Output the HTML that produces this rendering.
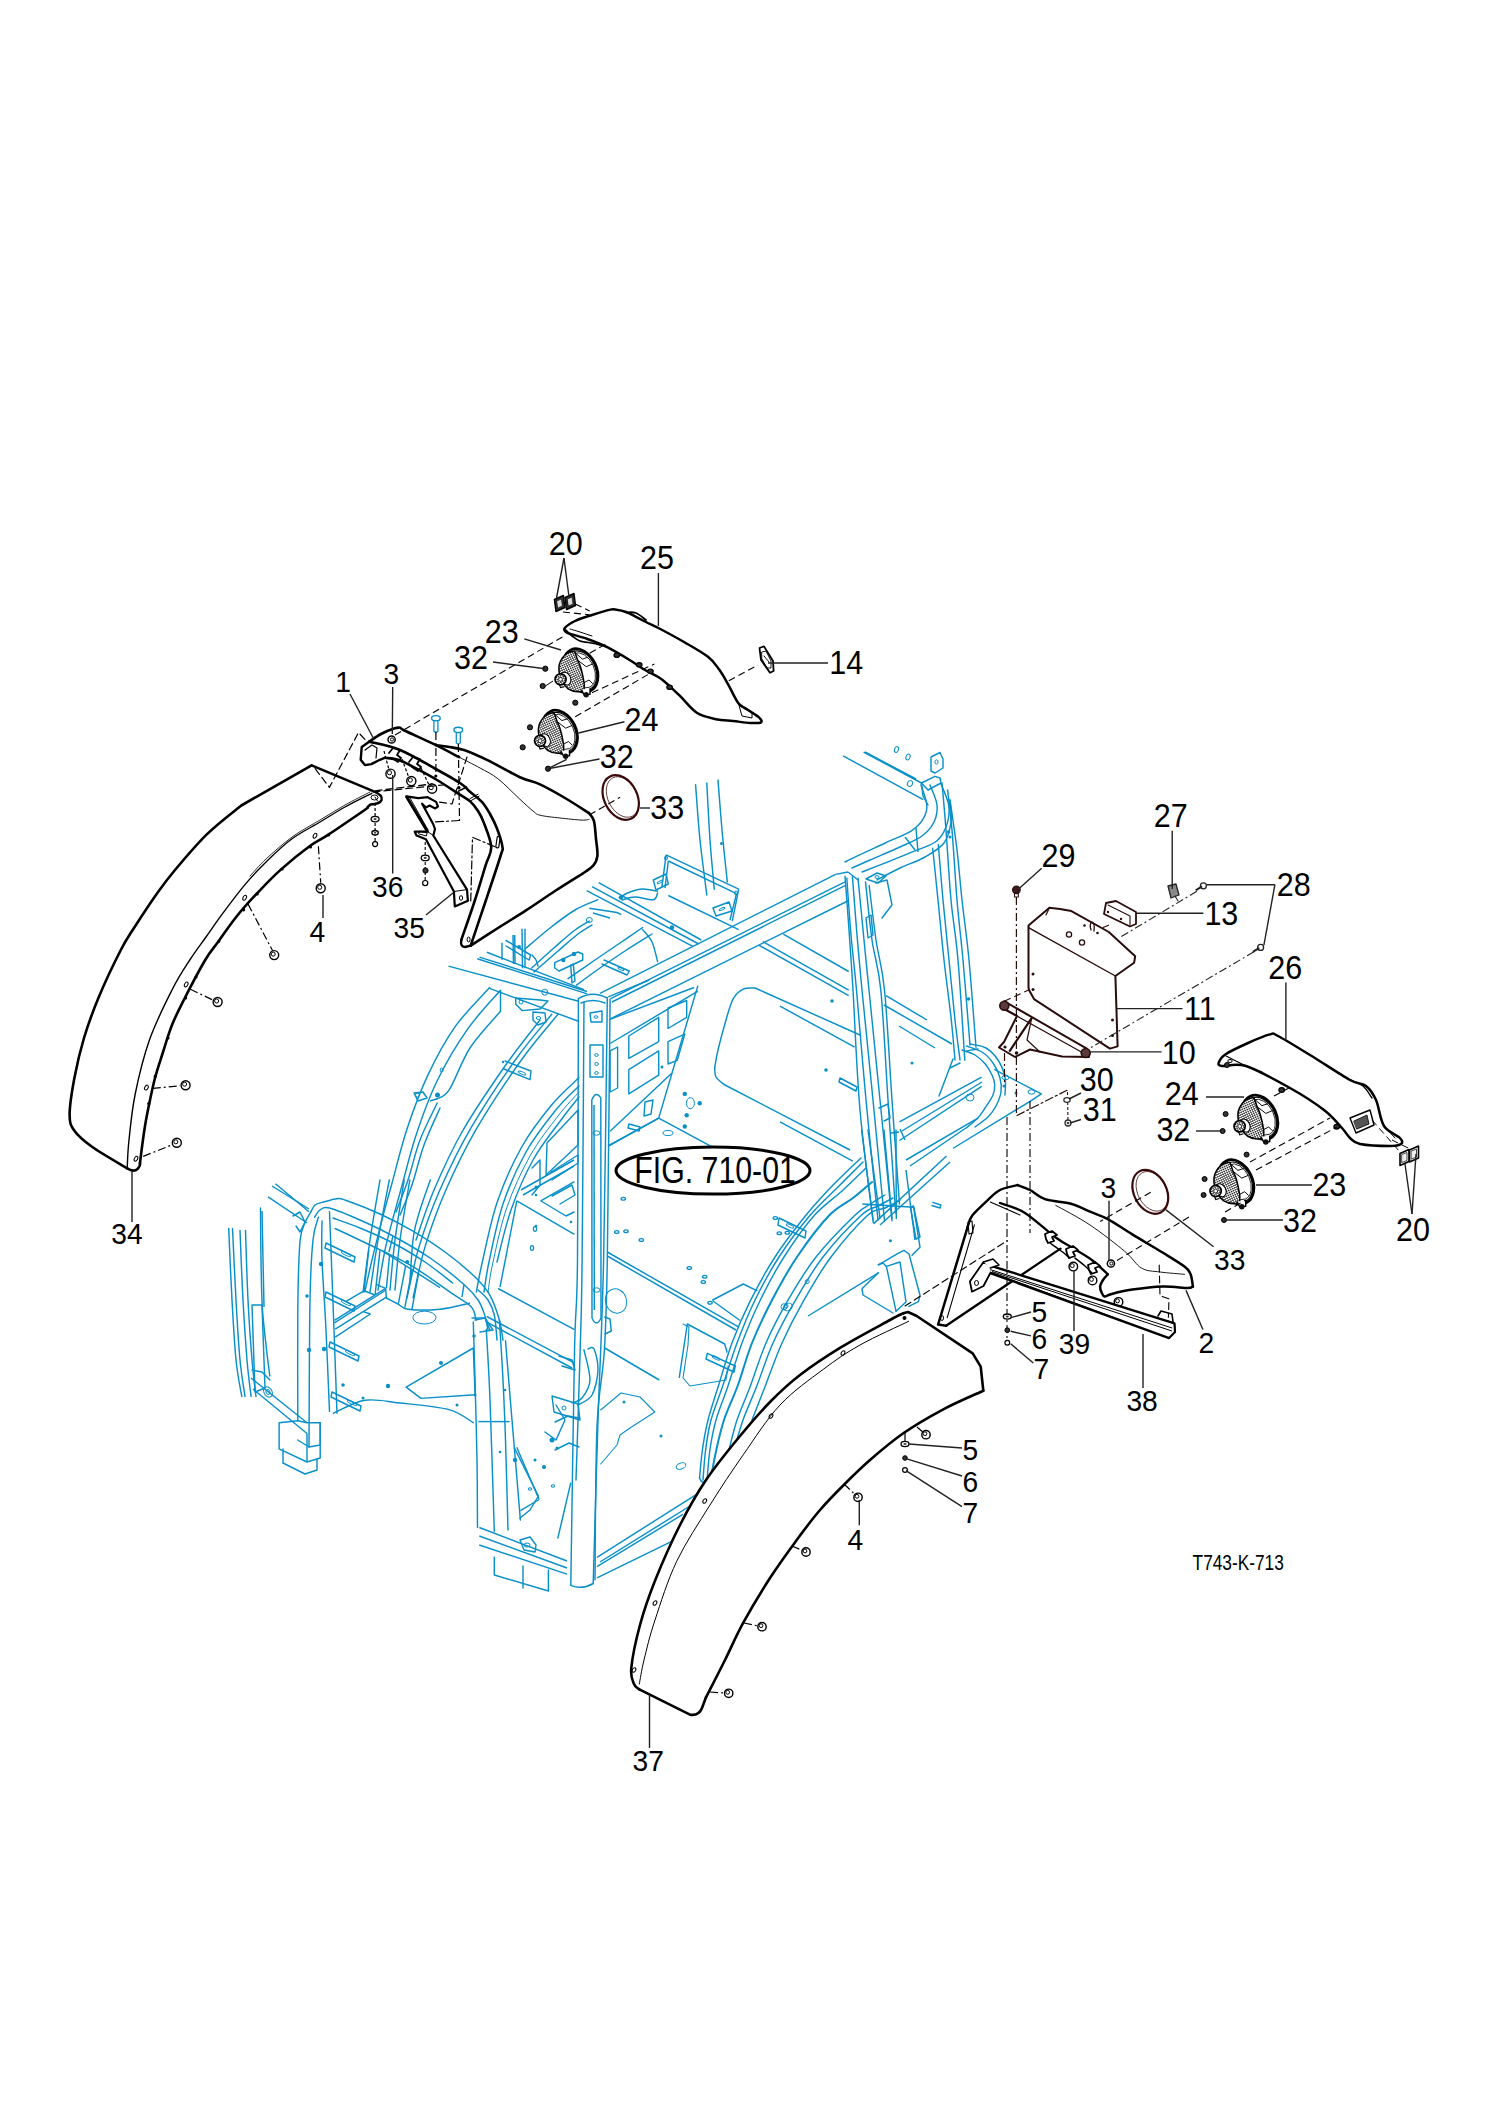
<!DOCTYPE html>
<html><head><meta charset="utf-8"><style>
html,body{margin:0;padding:0;background:#fff;}
svg{display:block;}
text{font-family:"Liberation Sans",sans-serif;fill:#000;}
</style></head><body>
<svg width="1500" height="2121" viewBox="0 0 1500 2121" xmlns="http://www.w3.org/2000/svg">
<rect width="1500" height="2121" fill="#fff"/>
<line x1="600" y1="993.3" x2="835.6" y2="874.4" stroke="#0a90c8" stroke-width="1.45"/>
<line x1="610.7" y1="998.7" x2="845" y2="881.9" stroke="#0a90c8" stroke-width="1.45"/>
<line x1="612" y1="1002" x2="845" y2="885.6" stroke="#0a90c8" stroke-width="1.45"/>
<line x1="610.7" y1="1018.7" x2="848.7" y2="900.5" stroke="#0a90c8" stroke-width="1.45"/>
<path d="M921,785 C922,788.4 926.6,799.6 926.9,805.3 C927.2,811 925.6,814.9 923,819.2 C920.4,823.5 917.3,827.1 911,831.1 C904.7,835.1 893.9,839 885.3,843 C876.7,847 866.3,851.7 859.6,854.9 C852.9,858.1 847.4,860.8 845,862" stroke="#0a90c8" stroke-width="1.45" fill="none" stroke-linejoin="round" stroke-linecap="round"/>
<path d="M930,785 C931.2,788.3 936.3,798.8 937,805 C937.7,811.2 936.5,816.8 934,822 C931.5,827.2 927.7,831.8 922,836 C916.3,840.2 908.7,843 900,847 C891.3,851 878,856.5 870,860 C862,863.5 855,866.7 852,868" stroke="#0a90c8" stroke-width="1.45" fill="none" stroke-linejoin="round" stroke-linecap="round"/>
<path d="M940.8,783.6 C942.1,787.2 947.7,798.4 948.7,805.3 C949.7,812.2 948.7,819.1 946.7,825.1 C944.7,831.1 942.1,836.7 936.8,841 C931.5,845.3 923.6,847.3 915,850.9 C906.4,854.5 894.1,859.3 885.3,862.8 C876.5,866.3 865.9,870.5 862,872" stroke="#0a90c8" stroke-width="1.45" fill="none" stroke-linejoin="round" stroke-linecap="round"/>
<path d="M950,800 C950.2,803.7 952,814.8 951,822 C950,829.2 948.3,837.2 944,843 C939.7,848.8 932.3,852.8 925,857 C917.7,861.2 908,864.2 900,868 C892,871.8 880.8,878 877,880" stroke="#0a90c8" stroke-width="1.45" fill="none" stroke-linejoin="round" stroke-linecap="round"/>
<line x1="835.6" y1="874.4" x2="848" y2="872" stroke="#0a90c8" stroke-width="1.45"/>
<line x1="848" y1="872" x2="858" y2="880" stroke="#0a90c8" stroke-width="1.45"/>
<line x1="905" y1="837" x2="915" y2="850" stroke="#0a90c8" stroke-width="1.45"/>
<line x1="916" y1="828" x2="918" y2="852" stroke="#0a90c8" stroke-width="1.45"/>
<path d="M921.5,783 L935,776.4 L940,778 L941,783 L928,790 L921.5,783" stroke="#0a90c8" stroke-width="1.45" fill="none" stroke-linejoin="round" stroke-linecap="round"/>
<path d="M921.5,783 L923,796 L928,805" stroke="#0a90c8" stroke-width="1.45" fill="none" stroke-linejoin="round" stroke-linecap="round"/>
<line x1="921.5" y1="783" x2="863.6" y2="752.1" stroke="#0a90c8" stroke-width="1.45"/>
<line x1="923.3" y1="799.7" x2="843.1" y2="755.9" stroke="#0a90c8" stroke-width="1.45"/>
<line x1="916" y1="779" x2="865" y2="752" stroke="#0a90c8" stroke-width="1.45"/>
<ellipse cx="896.5" cy="749.5" rx="2" ry="3" transform="rotate(20 896.5 749.5)" fill="none" stroke="#0a90c8" stroke-width="1"/>
<ellipse cx="908" cy="757" rx="2" ry="3" transform="rotate(20 908 757)" fill="none" stroke="#0a90c8" stroke-width="1"/>
<path d="M931,757 L940,752.5 L943,759 L943,768 L935,773 L931,771 L931,757" stroke="#0a90c8" stroke-width="1.45" fill="none" stroke-linejoin="round" stroke-linecap="round"/>
<ellipse cx="936.5" cy="762" rx="1.6" ry="2.2" transform="rotate(0 936.5 762)" fill="none" stroke="#0a90c8" stroke-width="1"/>
<ellipse cx="910" cy="783.5" rx="2.5" ry="3" transform="rotate(30 910 783.5)" fill="none" stroke="#0a90c8" stroke-width="1"/>
<path d="M845,876.3 C845.7,885.2 847.7,911 849,930 C850.3,949 851.2,960 853,990 C854.8,1020 856.6,1071.2 860,1110 C863.4,1148.8 871.1,1203.9 873.3,1222.7" stroke="#0a90c8" stroke-width="1.45" fill="none" stroke-linejoin="round" stroke-linecap="round"/>
<path d="M846.8,878.1 C847.5,887.6 849.4,916.4 851,935 C852.6,953.6 854,962.5 856.5,990 C859,1017.5 862.4,1061.7 866,1100 C869.6,1138.3 876,1200 878,1220" stroke="#0a90c8" stroke-width="1.45" fill="none" stroke-linejoin="round" stroke-linecap="round"/>
<path d="M852.4,876.3 C853.2,886.1 855.4,916 857,935 C858.6,954 859.3,962.5 862,990 C864.7,1017.5 869.2,1061.5 873,1100 C876.8,1138.5 882.6,1200.7 884.5,1220.8" stroke="#0a90c8" stroke-width="1.45" fill="none" stroke-linejoin="round" stroke-linecap="round"/>
<path d="M858,878.1 C859,888.4 862.2,921.4 864,940 C865.8,958.6 866.3,963.3 869,990 C871.7,1016.7 876.2,1061.5 880,1100 C883.8,1138.5 890,1200.7 892,1220.8" stroke="#0a90c8" stroke-width="1.45" fill="none" stroke-linejoin="round" stroke-linecap="round"/>
<path d="M865.5,881.9 C866.6,891.6 869.5,922 872,940 C874.5,958 878.1,963.3 880.8,990 C883.5,1016.7 885.5,1062.8 888,1100 C890.5,1137.2 894.4,1194.4 895.7,1213.3" stroke="#0a90c8" stroke-width="1.45" fill="none" stroke-linejoin="round" stroke-linecap="round"/>
<path d="M869.2,885.6 C870.3,894.7 873.5,922.6 876,940 C878.5,957.4 881.8,963.3 884.5,990 C887.2,1016.7 889.5,1064.3 892,1100 C894.5,1135.7 898.2,1186.7 899.5,1204" stroke="#0a90c8" stroke-width="1.45" fill="none" stroke-linejoin="round" stroke-linecap="round"/>
<path d="M866,879 L877,873 L886,876 L878,883 L866,879" stroke="#0a90c8" stroke-width="1.45" fill="none" stroke-linejoin="round" stroke-linecap="round"/>
<ellipse cx="877" cy="877" rx="2" ry="1.4" transform="rotate(0 877 877)" fill="none" stroke="#0a90c8" stroke-width="1"/>
<path d="M876,883 L887,880 L892,905 L882,918" stroke="#0a90c8" stroke-width="1.45" fill="none" stroke-linejoin="round" stroke-linecap="round"/>
<path d="M866,918 L871,915 L873,935 L868,938 L866,918" stroke="#0a90c8" stroke-width="1.45" fill="none" stroke-linejoin="round" stroke-linecap="round"/>
<path d="M942,783 C942.7,790.8 944.5,810.5 946,830 C947.5,849.5 949,878.3 951,900 C953,921.7 955.7,933.3 958,960 C960.3,986.7 963.7,1043.6 964.8,1060.3" stroke="#0a90c8" stroke-width="1.45" fill="none" stroke-linejoin="round" stroke-linecap="round"/>
<path d="M947.6,790 C948.3,796.7 950.4,811.7 952,830 C953.6,848.3 955.2,878.3 957,900 C958.8,921.7 960.8,935.8 963,960 C965.2,984.2 968.8,1030.8 970,1045" stroke="#0a90c8" stroke-width="1.45" fill="none" stroke-linejoin="round" stroke-linecap="round"/>
<path d="M950,800 C951.2,808.3 955,833.3 957,850 C959,866.7 960,881.7 962,900 C964,918.3 966.7,935.5 969,960 C971.3,984.5 974.8,1032.7 976,1047.2" stroke="#0a90c8" stroke-width="1.45" fill="none" stroke-linejoin="round" stroke-linecap="round"/>
<path d="M932.7,848.3 C933.6,856.9 936.1,881.4 938,900 C939.9,918.6 941.8,940 944,960 C946.2,980 949.5,1003.3 951.3,1020 C953.1,1036.7 954.4,1053.3 955,1060" stroke="#0a90c8" stroke-width="1.45" fill="none" stroke-linejoin="round" stroke-linecap="round"/>
<path d="M938.3,844.5 C939.1,853.8 941.2,880.8 943,900 C944.8,919.2 947,940 949,960 C951,980 953.2,1003.3 955,1020 C956.8,1036.7 959.2,1053.3 960,1060" stroke="#0a90c8" stroke-width="1.45" fill="none" stroke-linejoin="round" stroke-linecap="round"/>
<circle cx="948.5" cy="832" r="1.8" fill="#0a90c8"/>
<circle cx="950" cy="837" r="1.5" fill="#0a90c8"/>
<circle cx="968.5" cy="999" r="1.8" fill="#0a90c8"/>
<path d="M962,1050 C964.2,1050.8 971.1,1052.7 975,1055 C978.9,1057.3 982.5,1060.7 985.3,1064 C988.1,1067.3 990.4,1071.6 992,1075 C993.6,1078.4 994.5,1081.2 994.7,1084.5 C994.9,1087.8 994.6,1091.1 993,1095 C991.4,1098.9 987.5,1104.2 985,1108 C982.5,1111.8 980.9,1114.8 977.9,1118.1 C974.9,1121.3 968.6,1125.9 966.7,1127.5" stroke="#0a90c8" stroke-width="1.45" fill="none" stroke-linejoin="round" stroke-linecap="round"/>
<path d="M966.7,1046 C969.2,1047 977.6,1049.2 982,1052 C986.4,1054.8 990,1058.7 993,1063 C996,1067.3 998.7,1073.2 1000,1078 C1001.3,1082.8 1001.7,1087.3 1001,1092 C1000.3,1096.7 998.2,1101.8 996,1106 C993.8,1110.2 991.5,1113.5 988,1117 C984.5,1120.5 977.2,1125.3 975,1127" stroke="#0a90c8" stroke-width="1.45" fill="none" stroke-linejoin="round" stroke-linecap="round"/>
<path d="M970,1044 C972.7,1044.7 981.3,1045.3 986,1048 C990.7,1050.7 994.8,1055.2 998,1060 C1001.2,1064.8 1003.8,1071.2 1005,1077 C1006.2,1082.8 1005,1092 1005,1095" stroke="#0a90c8" stroke-width="1.45" fill="none" stroke-linejoin="round" stroke-linecap="round"/>
<path d="M966.7,1050.9 L978,1049" stroke="#0a90c8" stroke-width="1.45" fill="none" stroke-linejoin="round" stroke-linecap="round"/>
<line x1="899.5" y1="1121.9" x2="981.6" y2="1077.1" stroke="#0a90c8" stroke-width="1.45"/>
<line x1="899.5" y1="1140.5" x2="981.6" y2="1086.4" stroke="#0a90c8" stroke-width="1.45"/>
<line x1="902" y1="1131" x2="982" y2="1082" stroke="#0a90c8" stroke-width="1.45"/>
<line x1="906" y1="1160" x2="977.9" y2="1118.1" stroke="#0a90c8" stroke-width="1.45"/>
<line x1="910" y1="1166" x2="966.7" y2="1127.5" stroke="#0a90c8" stroke-width="1.45"/>
<ellipse cx="970" cy="1097.5" rx="4" ry="3.5" transform="rotate(0 970 1097.5)" fill="none" stroke="#0a90c8" stroke-width="1"/>
<line x1="891" y1="1133" x2="899" y2="1132" stroke="#0a90c8" stroke-width="1.45"/>
<line x1="900" y1="1129" x2="905" y2="1140" stroke="#0a90c8" stroke-width="1.45"/>
<path d="M994.7,1069.6 L1041.3,1093.9 L1030.1,1101.3 L953.6,1148" stroke="#0a90c8" stroke-width="1.45" fill="none" stroke-linejoin="round" stroke-linecap="round"/>
<ellipse cx="1005.5" cy="1077.5" rx="3.5" ry="2.2" transform="rotate(0 1005.5 1077.5)" fill="none" stroke="#0a90c8" stroke-width="1"/>
<ellipse cx="1031.5" cy="1092" rx="3.5" ry="2.2" transform="rotate(0 1031.5 1092)" fill="none" stroke="#0a90c8" stroke-width="1"/>
<circle cx="1004" cy="1086" r="1.5" fill="#0a90c8"/>
<circle cx="1016" cy="1093" r="1.5" fill="#0a90c8"/>
<path d="M953,1059 L939,1096" stroke="#0a90c8" stroke-width="1.45" fill="none" stroke-linejoin="round" stroke-linecap="round"/>
<path d="M950,1068 L960,1063" stroke="#0a90c8" stroke-width="1.45" fill="none" stroke-linejoin="round" stroke-linecap="round"/>
<path d="M695.6,784.8 C696.3,794 698.1,821.6 700,840 C701.9,858.4 705.7,885.8 706.8,895" stroke="#0a90c8" stroke-width="1.45" fill="none" stroke-linejoin="round" stroke-linecap="round"/>
<path d="M706.8,783 C707.3,792.5 708.8,822.3 710,840 C711.2,857.7 713.6,881.1 714.3,889.3" stroke="#0a90c8" stroke-width="1.45" fill="none" stroke-linejoin="round" stroke-linecap="round"/>
<path d="M718,780.1 C718.7,788.4 720.5,813 722,830 C723.5,847 726.4,873.2 727.3,881.9" stroke="#0a90c8" stroke-width="1.45" fill="none" stroke-linejoin="round" stroke-linecap="round"/>
<circle cx="721.5" cy="843.5" r="1.5" fill="#0a90c8"/>
<line x1="666.1" y1="854.9" x2="738.7" y2="889.1" stroke="#0a90c8" stroke-width="1.45"/>
<line x1="668.3" y1="861" x2="736.5" y2="893.6" stroke="#0a90c8" stroke-width="1.45"/>
<line x1="666.1" y1="854.9" x2="661.9" y2="886.9" stroke="#0a90c8" stroke-width="1.45"/>
<line x1="668.3" y1="861" x2="665" y2="888" stroke="#0a90c8" stroke-width="1.45"/>
<line x1="738.7" y1="889.1" x2="732.3" y2="921.1" stroke="#0a90c8" stroke-width="1.45"/>
<line x1="736.5" y1="893.6" x2="730" y2="920" stroke="#0a90c8" stroke-width="1.45"/>
<line x1="668.3" y1="895.5" x2="738.7" y2="929.6" stroke="#0a90c8" stroke-width="1.45"/>
<path d="M653.3,880 L666,874 L668.3,884 L656,890 L653.3,880" stroke="#0a90c8" stroke-width="1.45" fill="none" stroke-linejoin="round" stroke-linecap="round"/>
<ellipse cx="660" cy="882" rx="3" ry="1" transform="rotate(-25 660 882)" fill="none" stroke="#0a90c8" stroke-width="1"/>
<path d="M713,908 L729,902 L732,911 L716,916 L713,908" stroke="#0a90c8" stroke-width="1.45" fill="none" stroke-linejoin="round" stroke-linecap="round"/>
<ellipse cx="722" cy="909" rx="3" ry="1" transform="rotate(-25 722 909)" fill="none" stroke="#0a90c8" stroke-width="1"/>
<path d="M619.2,897.6 C621,896.7 626.1,893.4 630,892 C633.9,890.6 638.1,889.1 642.7,889 C647.3,888.9 655.1,890.8 657.6,891.2" stroke="#0a90c8" stroke-width="1.45" fill="none" stroke-linejoin="round" stroke-linecap="round"/>
<path d="M622,900 C624.2,899.5 629.8,897 635,897 C640.2,897 649.5,900.4 653.3,899.7 C657.1,899 656.9,894.1 657.6,893" stroke="#0a90c8" stroke-width="1.45" fill="none" stroke-linejoin="round" stroke-linecap="round"/>
<ellipse cx="666" cy="858" rx="1.5" ry="2" transform="rotate(0 666 858)" fill="none" stroke="#0a90c8" stroke-width="1"/>
<ellipse cx="736" cy="893" rx="1.5" ry="2" transform="rotate(0 736 893)" fill="none" stroke="#0a90c8" stroke-width="1"/>
<line x1="586.7" y1="890.7" x2="693.3" y2="946.7" stroke="#0a90c8" stroke-width="1.45"/>
<line x1="592" y1="886.7" x2="698.7" y2="944" stroke="#0a90c8" stroke-width="1.45"/>
<line x1="598.7" y1="882.7" x2="701.3" y2="940" stroke="#0a90c8" stroke-width="1.45"/>
<circle cx="621" cy="897.5" r="2.2" fill="#0a90c8"/>
<circle cx="672" cy="927.5" r="2.2" fill="#0a90c8"/>
<line x1="477.3" y1="958.7" x2="587.2" y2="993.9" stroke="#0a90c8" stroke-width="1.45"/>
<line x1="479.5" y1="957.1" x2="587" y2="991.5" stroke="#0a90c8" stroke-width="1.45"/>
<line x1="486.9" y1="952.3" x2="584" y2="989.6" stroke="#0a90c8" stroke-width="1.45"/>
<line x1="448.5" y1="966.1" x2="578.7" y2="1001.3" stroke="#0a90c8" stroke-width="1.45"/>
<line x1="489.6" y1="988.4" x2="578.5" y2="1021.3" stroke="#0a90c8" stroke-width="1.45"/>
<line x1="502" y1="942.7" x2="502" y2="959.7" stroke="#0a90c8" stroke-width="1.45"/>
<line x1="513" y1="935" x2="513.5" y2="964" stroke="#0a90c8" stroke-width="1.45"/>
<line x1="514.7" y1="935" x2="515" y2="964" stroke="#0a90c8" stroke-width="1.45"/>
<line x1="522" y1="928.8" x2="522.5" y2="968.3" stroke="#0a90c8" stroke-width="1.45"/>
<line x1="525" y1="928.8" x2="525" y2="968.3" stroke="#0a90c8" stroke-width="1.45"/>
<path d="M506,940.5 L530.7,955 L529,960 L506,946" stroke="#0a90c8" stroke-width="1.45" fill="none" stroke-linejoin="round" stroke-linecap="round"/>
<circle cx="519" cy="947" r="2" fill="#0a90c8"/>
<path d="M532,955 C532.7,955.8 535,958.2 536,960 C537,961.8 537.7,965 538,966" stroke="#0a90c8" stroke-width="1.45" fill="none" stroke-linejoin="round" stroke-linecap="round"/>
<path d="M525.3,948.8 C529.4,945.3 541.7,934.5 550,928 C558.3,921.5 567,914.7 575,910 C583,905.3 594.1,901.4 597.9,899.7" stroke="#0a90c8" stroke-width="1.45" fill="none" stroke-linejoin="round" stroke-linecap="round"/>
<path d="M531.7,968 C535.6,964.5 547.8,953.3 555,947 C562.2,940.7 569.3,934.3 575,930 C580.7,925.7 586.9,922.6 589.3,921.1" stroke="#0a90c8" stroke-width="1.45" fill="none" stroke-linejoin="round" stroke-linecap="round"/>
<path d="M534,972 C538,968.5 550.7,957.3 558,951 C565.3,944.7 572.3,938.3 578,934 C583.7,929.7 589.7,926.5 592,925" stroke="#0a90c8" stroke-width="1.45" fill="none" stroke-linejoin="round" stroke-linecap="round"/>
<path d="M568,978.7 C572.5,975.6 586.3,966 595,960 C603.7,954 612,948.4 620,943 C628,937.6 638.9,930.1 642.7,927.5" stroke="#0a90c8" stroke-width="1.45" fill="none" stroke-linejoin="round" stroke-linecap="round"/>
<path d="M576.5,985.1 C580.4,982.2 591.9,973.7 600,968 C608.1,962.3 616.3,956.7 625,951 C633.7,945.3 647.5,936.8 652,934" stroke="#0a90c8" stroke-width="1.45" fill="none" stroke-linejoin="round" stroke-linecap="round"/>
<path d="M642.7,929.6 C644.2,931.7 649.5,936.7 652,942 C654.5,947.3 656.7,958.3 657.6,961.6" stroke="#0a90c8" stroke-width="1.45" fill="none" stroke-linejoin="round" stroke-linecap="round"/>
<line x1="589.3" y1="908.3" x2="617" y2="912.5" stroke="#0a90c8" stroke-width="1.45"/>
<line x1="617" y1="912.5" x2="621.3" y2="914.7" stroke="#0a90c8" stroke-width="1.45"/>
<line x1="593" y1="913" x2="610" y2="918" stroke="#0a90c8" stroke-width="1.45"/>
<path d="M554.7,962.7 L578,952 L582.7,954 L582.7,960 L559,971 L554.7,968 L554.7,962.7" stroke="#0a90c8" stroke-width="1.45" fill="none" stroke-linejoin="round" stroke-linecap="round"/>
<circle cx="563.3" cy="960" r="2.2" fill="#0a90c8"/>
<circle cx="574" cy="954" r="2.2" fill="#0a90c8"/>
<path d="M570.7,965.3 L573.3,964 L575,981 L572,983 L570.7,965.3" stroke="#0a90c8" stroke-width="1.45" fill="none" stroke-linejoin="round" stroke-linecap="round"/>
<path d="M604,960 L629.3,971 L627,975 L602,964" stroke="#0a90c8" stroke-width="1.45" fill="none" stroke-linejoin="round" stroke-linecap="round"/>
<ellipse cx="621" cy="969" rx="3" ry="1" transform="rotate(25 621 969)" fill="none" stroke="#0a90c8" stroke-width="1"/>
<ellipse cx="589.3" cy="920" rx="3" ry="2.5" transform="rotate(0 589.3 920)" fill="none" stroke="#0a90c8" stroke-width="1"/>
<path d="M578.4,998.7 C578.2,1042.2 578.1,1201.1 577.5,1260 C576.9,1318.9 575.6,1297.8 574.5,1352 C573.4,1406.2 571.4,1546.4 570.8,1585.3" stroke="#0a90c8" stroke-width="1.45" fill="none" stroke-linejoin="round" stroke-linecap="round"/>
<path d="M584,1002 C583.7,1045 582.8,1201.7 582.1,1260 C581.5,1318.3 581.1,1315.3 580.1,1352 C579.1,1388.7 576.7,1458.7 576,1480" stroke="#0a90c8" stroke-width="1.45" fill="none" stroke-linejoin="round" stroke-linecap="round"/>
<path d="M607.3,998 C606.7,1041.7 605.1,1189.7 603.6,1260 C602.1,1330.3 599.7,1366.1 598,1420 C596.3,1473.9 594,1556.2 593.2,1583.5" stroke="#0a90c8" stroke-width="1.45" fill="none" stroke-linejoin="round" stroke-linecap="round"/>
<path d="M610.1,999 C609.6,1042.5 608.2,1201.5 607.3,1260 C606.3,1318.5 606.1,1322.2 604.4,1350 C602.7,1377.8 598.6,1388.4 597,1426.7 C595.4,1465 595.3,1554.2 595,1579.7" stroke="#0a90c8" stroke-width="1.45" fill="none" stroke-linejoin="round" stroke-linecap="round"/>
<path d="M578.4,998.7 Q592,990 607.3,998" stroke="#0a90c8" stroke-width="1.45" fill="none" stroke-linejoin="round" stroke-linecap="round"/>
<path d="M581,1003 Q593,998 605,1003" stroke="#0a90c8" stroke-width="1.45" fill="none" stroke-linejoin="round" stroke-linecap="round"/>
<path d="M570.8,1585.3 Q582,1590 593.2,1583.5" stroke="#0a90c8" stroke-width="1.45" fill="none" stroke-linejoin="round" stroke-linecap="round"/>
<path d="M590,1045 L603,1045 L603,1077 L590,1077 L590,1045" stroke="#0a90c8" stroke-width="1.45" fill="none" stroke-linejoin="round" stroke-linecap="round"/>
<ellipse cx="596.5" cy="1055" rx="1.8" ry="1.4" transform="rotate(0 596.5 1055)" fill="none" stroke="#0a90c8" stroke-width="1"/>
<ellipse cx="596.5" cy="1064" rx="1.8" ry="1.6" transform="rotate(0 596.5 1064)" fill="none" stroke="#0a90c8" stroke-width="1"/>
<ellipse cx="596.5" cy="1073" rx="1.8" ry="1.4" transform="rotate(0 596.5 1073)" fill="none" stroke="#0a90c8" stroke-width="1"/>
<path d="M590,1013 L602,1011 L602,1022 L591,1022 L590,1013" stroke="#0a90c8" stroke-width="1.45" fill="none" stroke-linejoin="round" stroke-linecap="round"/>
<ellipse cx="596" cy="1017" rx="2" ry="1.2" transform="rotate(0 596 1017)" fill="none" stroke="#0a90c8" stroke-width="1"/>
<path d="M592,1318 L591.8,1100 Q596,1090 600.8,1098 L601,1318 Q596.5,1328 592,1318 Z" stroke="#0a90c8" stroke-width="1.45" fill="none" stroke-linejoin="round" stroke-linecap="round"/>
<line x1="594" y1="1105" x2="594.3" y2="1310" stroke="#0a90c8" stroke-width="1.45"/>
<ellipse cx="596.5" cy="1133" rx="3.5" ry="2.2" transform="rotate(0 596.5 1133)" fill="none" stroke="#0a90c8" stroke-width="1"/>
<ellipse cx="596.5" cy="1290" rx="3.5" ry="2.2" transform="rotate(0 596.5 1290)" fill="none" stroke="#0a90c8" stroke-width="1"/>
<path d="M588,1349 C589,1349 592.3,1345.5 594,1349 C595.7,1352.5 598.3,1362.3 598,1370 C597.7,1377.7 595.3,1389.2 592,1395 C588.7,1400.8 580.3,1403.3 578,1405" stroke="#0a90c8" stroke-width="1.45" fill="none" stroke-linejoin="round" stroke-linecap="round"/>
<path d="M584,1350 C585,1355 590.3,1372 590,1380 C589.7,1388 585,1394.2 582,1398 C579,1401.8 573.7,1402.2 572,1403" stroke="#0a90c8" stroke-width="1.45" fill="none" stroke-linejoin="round" stroke-linecap="round"/>
<path d="M552,1396 L578,1404 L580,1420 L554,1412 L552,1396" stroke="#0a90c8" stroke-width="1.45" fill="none" stroke-linejoin="round" stroke-linecap="round"/>
<ellipse cx="564" cy="1408" rx="2" ry="2" transform="rotate(0 564 1408)" fill="none" stroke="#0a90c8" stroke-width="1"/>
<line x1="608.3" y1="996.8" x2="649.3" y2="980" stroke="#0a90c8" stroke-width="1.45"/>
<line x1="610.1" y1="1019.2" x2="694.1" y2="987.5" stroke="#0a90c8" stroke-width="1.45"/>
<line x1="610.1" y1="1043.5" x2="697.9" y2="991.2" stroke="#0a90c8" stroke-width="1.45"/>
<line x1="658.7" y1="1118.1" x2="697.9" y2="985.6" stroke="#0a90c8" stroke-width="1.45"/>
<line x1="610.1" y1="1131.2" x2="671.7" y2="1073.3" stroke="#0a90c8" stroke-width="1.45"/>
<line x1="608.3" y1="1146.1" x2="658.7" y2="1118.1" stroke="#0a90c8" stroke-width="1.45"/>
<path d="M628.8,1036 L658.7,1017.3 L658.7,1041.6 L628.8,1058.4Z" stroke="#0a90c8" stroke-width="1.4" fill="none" stroke-linejoin="round" stroke-linecap="round"/>
<path d="M628.8,1069.6 L658.7,1050.9 L658.7,1075.2 L628.8,1093.9Z" stroke="#0a90c8" stroke-width="1.4" fill="none" stroke-linejoin="round" stroke-linecap="round"/>
<path d="M668,1008 L686.7,1000.5 L686.7,1017.3 L668,1028.5Z" stroke="#0a90c8" stroke-width="1.4" fill="none" stroke-linejoin="round" stroke-linecap="round"/>
<path d="M668,1041.6 L684.8,1034.1 L677.3,1060.3 L668,1064Z" stroke="#0a90c8" stroke-width="1.4" fill="none" stroke-linejoin="round" stroke-linecap="round"/>
<path d="M610.1,1050.9 L617.6,1047 L617.6,1088 L610.1,1092Z" stroke="#0a90c8" stroke-width="1.4" fill="none" stroke-linejoin="round" stroke-linecap="round"/>
<circle cx="662" cy="1067" r="1.5" fill="#0a90c8"/>
<path d="M645,1102 L653,1100 L651,1114 L644,1116 L645,1102" stroke="#0a90c8" stroke-width="1.45" fill="none" stroke-linejoin="round" stroke-linecap="round"/>
<path d="M629,1124 L640,1127 L639,1131 L628,1128 L629,1124" stroke="#0a90c8" stroke-width="1.45" fill="none" stroke-linejoin="round" stroke-linecap="round"/>
<line x1="658.7" y1="1118.1" x2="780" y2="1183.5" stroke="#0a90c8" stroke-width="1.45"/>
<line x1="658.7" y1="1118.1" x2="608" y2="1146" stroke="#0a90c8" stroke-width="1.45"/>
<ellipse cx="668" cy="1133" rx="5" ry="2.5" transform="rotate(0 668 1133)" fill="none" stroke="#0a90c8" stroke-width="1"/>
<circle cx="684.8" cy="1093.9" r="2.2" fill="#0a90c8"/>
<circle cx="699.7" cy="1103.2" r="2.2" fill="#0a90c8"/>
<circle cx="686.7" cy="1115.3" r="2.2" fill="#0a90c8"/>
<circle cx="684.8" cy="1126.5" r="2.2" fill="#0a90c8"/>
<ellipse cx="690.4" cy="1103.2" rx="4" ry="5.5" transform="rotate(0 690.4 1103.2)" fill="none" stroke="#0a90c8" stroke-width="1"/>
<path d="M714.7,1067.7 C715.2,1064.8 716.1,1058 718,1050 C719.9,1042 723.5,1028.5 726,1020 C728.5,1011.5 730.5,1003.8 733.3,998.7 C736.1,993.6 739.1,991.1 742.7,989.3 C746.3,987.5 753,988.2 755,988" stroke="#0a90c8" stroke-width="1.45" fill="none" stroke-linejoin="round" stroke-linecap="round"/>
<line x1="755" y1="988" x2="860" y2="1035" stroke="#0a90c8" stroke-width="1.45"/>
<path d="M714.7,1067.7 C714.9,1069.2 714.5,1074.2 716,1077 C717.5,1079.8 722.7,1083.2 724,1084.5" stroke="#0a90c8" stroke-width="1.45" fill="none" stroke-linejoin="round" stroke-linecap="round"/>
<line x1="724" y1="1084.5" x2="850" y2="1150" stroke="#0a90c8" stroke-width="1.45"/>
<line x1="759.1" y1="945.3" x2="848.7" y2="995.7" stroke="#0a90c8" stroke-width="1.45"/>
<line x1="762.8" y1="941.6" x2="848.7" y2="990.1" stroke="#0a90c8" stroke-width="1.45"/>
<line x1="783.3" y1="934.1" x2="848.7" y2="971.5" stroke="#0a90c8" stroke-width="1.45"/>
<line x1="780" y1="1006.1" x2="854.7" y2="1047.2" stroke="#0a90c8" stroke-width="1.45"/>
<line x1="780" y1="1121.9" x2="852.8" y2="1161.1" stroke="#0a90c8" stroke-width="1.45"/>
<line x1="886" y1="995.7" x2="927" y2="1020" stroke="#0a90c8" stroke-width="1.45"/>
<line x1="884" y1="1005" x2="952" y2="1044" stroke="#0a90c8" stroke-width="1.45"/>
<line x1="899" y1="1026" x2="935" y2="1048" stroke="#0a90c8" stroke-width="1.45"/>
<circle cx="832" cy="1001" r="1.8" fill="#0a90c8"/>
<circle cx="826" cy="1070" r="1.8" fill="#0a90c8"/>
<circle cx="912" cy="1063" r="1.5" fill="#0a90c8"/>
<path d="M840,1078 L857,1087 L856,1091 L839,1082 L840,1078" stroke="#0a90c8" stroke-width="1.45" fill="none" stroke-linejoin="round" stroke-linecap="round"/>
<path d="M879,1108 L888,1104 L890,1118 L884,1121" stroke="#0a90c8" stroke-width="1.45" fill="none" stroke-linejoin="round" stroke-linecap="round"/>
<path d="M489.6,987.6 C483.9,994.1 465.6,1011.9 455.3,1026.4 C445.1,1040.9 436.2,1057.5 428.1,1074.6 C420.1,1091.7 413,1110.8 407,1128.9 C401,1147 396,1168.6 392,1183.2 C388,1197.8 386.2,1203.6 382.9,1216.4 C379.6,1229.2 375,1247.4 372,1260 C369,1272.6 366,1286.5 364.8,1291.8" stroke="#0a90c8" stroke-width="1.45" fill="none" stroke-linejoin="round" stroke-linecap="round"/>
<path d="M500.5,990.2 C495,996.7 477.9,1014.3 467.4,1029.4 C456.8,1044.5 445.8,1063.1 437.2,1080.7 C428.6,1098.3 422.1,1116.9 416.1,1135 C410.1,1153.1 404.8,1175.7 401,1189.3 C397.2,1202.9 394.8,1211.9 393.5,1216.4" stroke="#0a90c8" stroke-width="1.45" fill="none" stroke-linejoin="round" stroke-linecap="round"/>
<path d="M500.5,1011.3 C495.4,1017.4 478.5,1034.9 470,1048 C461.5,1061.1 454.8,1081.2 449.3,1089.7 C443.8,1098.2 439.2,1097.3 437.2,1098.8" stroke="#0a90c8" stroke-width="1.45" fill="none" stroke-linejoin="round" stroke-linecap="round"/>
<line x1="500.5" y1="990.2" x2="500.5" y2="1011.3" stroke="#0a90c8" stroke-width="1.45"/>
<line x1="437.2" y1="1098.8" x2="430" y2="1101" stroke="#0a90c8" stroke-width="1.45"/>
<path d="M437.2,1103 C434.3,1109.2 424.9,1127.2 420,1140 C415.1,1152.8 412,1168 408,1180 C404,1192 398,1206.7 396,1212" stroke="#0a90c8" stroke-width="1.45" fill="none" stroke-linejoin="round" stroke-linecap="round"/>
<path d="M440,1108 C437.3,1114.2 428.7,1132.2 424,1145 C419.3,1157.8 416,1173.3 412,1185 C408,1196.7 402,1210 400,1215" stroke="#0a90c8" stroke-width="1.45" fill="none" stroke-linejoin="round" stroke-linecap="round"/>
<path d="M393.5,1216.4 C392.1,1222 387.6,1237.7 385,1250 C382.4,1262.3 379.2,1283.3 378,1290" stroke="#0a90c8" stroke-width="1.45" fill="none" stroke-linejoin="round" stroke-linecap="round"/>
<ellipse cx="441.7" cy="1070" rx="1.5" ry="2" transform="rotate(0 441.7 1070)" fill="none" stroke="#0a90c8" stroke-width="1"/>
<path d="M414,1093 L423,1092 L427,1098 L418,1101 L414,1093" stroke="#0a90c8" stroke-width="1.45" fill="none" stroke-linejoin="round" stroke-linecap="round"/>
<ellipse cx="417.5" cy="1095" rx="2" ry="2" transform="rotate(0 417.5 1095)" fill="none" stroke="#0a90c8" stroke-width="1"/>
<circle cx="437.5" cy="1095" r="2.5" fill="#0a90c8"/>
<path d="M557.9,1014.3 C551.9,1021.8 535.3,1040.4 521.7,1059.5 C508.1,1078.6 489,1107.3 476.4,1128.9 C463.8,1150.5 454.8,1169.7 446.2,1189.3 C437.6,1208.9 430.6,1228.5 425.1,1246.6 C419.6,1264.7 415.1,1289.4 413.1,1297.9" stroke="#0a90c8" stroke-width="1.45" fill="none" stroke-linejoin="round" stroke-linecap="round"/>
<path d="M551.8,1014.3 C545.8,1021.8 529.6,1039.9 516,1059 C502.4,1078.1 483,1107.2 470.4,1128.9 C457.8,1150.6 448.8,1169.7 440.2,1189.3 C431.6,1208.9 424.6,1228.5 419.1,1246.6 C413.6,1264.7 409,1289.4 407,1297.9" stroke="#0a90c8" stroke-width="1.45" fill="none" stroke-linejoin="round" stroke-linecap="round"/>
<path d="M540,1020 C534.2,1027.7 518,1047.3 505,1066 C492,1084.7 473.8,1111.3 462,1132 C450.2,1152.7 441.7,1172 434,1190 C426.3,1208 419,1231.7 416,1240" stroke="#0a90c8" stroke-width="1.45" fill="none" stroke-linejoin="round" stroke-linecap="round"/>
<path d="M505,1061 L531,1071 L530,1079.6 L504,1069" stroke="#0a90c8" stroke-width="1.45" fill="none" stroke-linejoin="round" stroke-linecap="round"/>
<ellipse cx="522" cy="1073" rx="4" ry="1.2" transform="rotate(22 522 1073)" fill="none" stroke="#0a90c8" stroke-width="1"/>
<circle cx="503" cy="1062" r="1.2" fill="#0a90c8"/>
<path d="M515.7,998 L540,1000 L548,1001 L540,1009 L522,1010.6 L515.7,1004 L515.7,998" stroke="#0a90c8" stroke-width="1.45" fill="none" stroke-linejoin="round" stroke-linecap="round"/>
<ellipse cx="521" cy="1002" rx="2" ry="2" transform="rotate(0 521 1002)" fill="none" stroke="#0a90c8" stroke-width="1"/>
<path d="M533,1012 L545,1013 L546,1022 L538,1025 L533,1020 L533,1012" stroke="#0a90c8" stroke-width="1.45" fill="none" stroke-linejoin="round" stroke-linecap="round"/>
<ellipse cx="538.5" cy="1018" rx="2.2" ry="1.5" transform="rotate(0 538.5 1018)" fill="none" stroke="#0a90c8" stroke-width="1"/>
<ellipse cx="544.8" cy="992.2" rx="3" ry="3" transform="rotate(0 544.8 992.2)" fill="none" stroke="#0a90c8" stroke-width="1"/>
<path d="M579,1077.6 C574.5,1082.1 561.3,1093.2 551.8,1104.8 C542.2,1116.4 530.8,1130.9 521.7,1147 C512.7,1163.1 504.1,1182.2 497.5,1201.3 C490.9,1220.4 485.9,1246.6 482.4,1261.7 C478.9,1276.8 477.4,1286.8 476.4,1291.8" stroke="#0a90c8" stroke-width="1.45" fill="none" stroke-linejoin="round" stroke-linecap="round"/>
<path d="M579,1086 C575,1090.2 563.8,1100 555,1111 C546.2,1122 534.7,1136.5 526,1152 C517.3,1167.5 509.2,1185.7 503,1204 C496.8,1222.3 492.2,1247.3 489,1262 C485.8,1276.7 484.8,1287 484,1292" stroke="#0a90c8" stroke-width="1.45" fill="none" stroke-linejoin="round" stroke-linecap="round"/>
<path d="M579,1092 C575.5,1096 566.2,1105.3 558,1116 C549.8,1126.7 538.5,1140.8 530,1156 C521.5,1171.2 513.2,1189.3 507,1207 C500.8,1224.7 496.2,1247.8 493,1262 C489.8,1276.2 488.8,1287 488,1292" stroke="#0a90c8" stroke-width="1.0" fill="none" stroke-linejoin="round" stroke-linecap="round"/>
<path d="M579,1097 C576,1100.8 568.7,1109.5 561,1120 C553.3,1130.5 541.3,1145 533,1160 C524.7,1175 517,1193 511,1210 C505,1227 499.3,1253.3 497,1262" stroke="#0a90c8" stroke-width="1.45" fill="none" stroke-linejoin="round" stroke-linecap="round"/>
<path d="M547,1143 L578,1110 L578,1145 L546,1175 L547,1143" stroke="#0a90c8" stroke-width="1.4" fill="none" stroke-linejoin="round" stroke-linecap="round"/>
<path d="M551,1172 L578,1155 L578,1163 L552,1180" stroke="#0a90c8" stroke-width="1.4" fill="none" stroke-linejoin="round" stroke-linecap="round"/>
<path d="M532,1168 L540,1160 L540,1185 L532,1195" stroke="#0a90c8" stroke-width="1.45" fill="none" stroke-linejoin="round" stroke-linecap="round"/>
<circle cx="536" cy="1187" r="1.5" fill="#0a90c8"/>
<path d="M310.9,1211.7 C311.6,1210.6 313.1,1206.5 315,1205 C316.9,1203.5 318.4,1203.5 322.1,1202.4 C325.8,1201.4 333,1199 337,1198.7 C341,1198.4 339.1,1198 346.3,1200.5 C353.5,1203 369.1,1209 380,1214 C390.9,1219 400.9,1224.1 411.7,1230.4 C422.5,1236.7 434.4,1244.2 445,1252 C455.6,1259.8 467.6,1269.8 475.1,1277.1 C482.6,1284.4 486.1,1288.5 490.1,1295.7 C494.2,1302.9 497.2,1312.6 499.4,1320 C501.5,1327.4 502.4,1336.7 503,1340" stroke="#0a90c8" stroke-width="1.45" fill="none" stroke-linejoin="round" stroke-linecap="round"/>
<path d="M314.6,1217.3 C315.5,1216.1 317.5,1211.5 320,1210 C322.5,1208.5 322.8,1206.3 329.5,1208 C336.2,1209.7 349.4,1215.3 360,1220 C370.6,1224.7 381.3,1229.7 393,1236 C404.7,1242.3 418.2,1249.9 430,1258 C441.8,1266.1 456,1277.5 464,1284.5 C472,1291.5 474.6,1295 478,1300 C481.4,1305 482.8,1309.4 484.5,1314.4 C486.2,1319.4 487.4,1327.4 488,1330" stroke="#0a90c8" stroke-width="1.45" fill="none" stroke-linejoin="round" stroke-linecap="round"/>
<path d="M333,1218 C337.5,1219.7 350,1223.8 360,1228 C370,1232.2 382.2,1237.3 393,1243 C403.8,1248.7 415.1,1255.3 425,1262 C434.9,1268.7 448.1,1279.5 452.7,1283" stroke="#0a90c8" stroke-width="1.45" fill="none" stroke-linejoin="round" stroke-linecap="round"/>
<path d="M335.1,1228.5 C340.9,1231.2 357.2,1238.8 370,1245 C382.8,1251.2 397.9,1257.8 411.7,1265.9 C425.5,1274.1 442.8,1287.1 452.7,1293.9 C462.6,1300.7 467.5,1302.6 471.4,1306.9 C475.3,1311.2 475.2,1317.8 476,1320" stroke="#0a90c8" stroke-width="1.45" fill="none" stroke-linejoin="round" stroke-linecap="round"/>
<line x1="393" y1="1236" x2="389" y2="1252" stroke="#0a90c8" stroke-width="1.45"/>
<line x1="464" y1="1284.5" x2="462" y2="1297" stroke="#0a90c8" stroke-width="1.45"/>
<path d="M310.9,1211.7 C309.8,1213.9 305.9,1219.4 304,1225 C302.1,1230.6 300.7,1231 299.7,1245.3 C298.7,1259.6 298.1,1281.5 297.8,1310.7 C297.5,1340 297.8,1402.5 297.8,1420.8" stroke="#0a90c8" stroke-width="1.45" fill="none" stroke-linejoin="round" stroke-linecap="round"/>
<path d="M318.3,1217.3 C317.4,1221.1 314.4,1226.2 313,1240 C311.6,1253.8 310.7,1265.5 310,1300 C309.3,1334.5 309.2,1422.5 309,1447" stroke="#0a90c8" stroke-width="1.45" fill="none" stroke-linejoin="round" stroke-linecap="round"/>
<path d="M322,1221 C322,1227.5 321.3,1241.8 322,1260 C322.7,1278.2 324.8,1304.8 326,1330 C327.2,1355.2 328.9,1397.9 329.5,1411.5" stroke="#0a90c8" stroke-width="1.45" fill="none" stroke-linejoin="round" stroke-linecap="round"/>
<path d="M329.5,1211.7 C329.8,1218.1 330.2,1230.3 331,1250 C331.8,1269.7 333,1302.8 334,1330 C335,1357.2 336.5,1399.4 337,1413.3" stroke="#0a90c8" stroke-width="1.45" fill="none" stroke-linejoin="round" stroke-linecap="round"/>
<path d="M297.8,1420.8 L307.1,1422.7 L320.2,1422.7 L320.2,1445 L309,1447 L297.8,1440" stroke="#0a90c8" stroke-width="1.45" fill="none" stroke-linejoin="round" stroke-linecap="round"/>
<path d="M252,1370 L262,1372 L270,1380" stroke="#0a90c8" stroke-width="1.45" fill="none" stroke-linejoin="round" stroke-linecap="round"/>
<line x1="251" y1="1378" x2="307" y2="1422.7" stroke="#0a90c8" stroke-width="1.45"/>
<line x1="253" y1="1389" x2="307" y2="1433.5" stroke="#0a90c8" stroke-width="1.45"/>
<ellipse cx="268" cy="1392" rx="4" ry="5.5" transform="rotate(-30 268 1392)" fill="none" stroke="#0a90c8" stroke-width="1"/>
<ellipse cx="268" cy="1392" rx="1.8" ry="2.5" transform="rotate(-30 268 1392)" fill="none" stroke="#0a90c8" stroke-width="1"/>
<path d="M279.1,1422.7 L279.1,1448.8 L307,1462 L320.2,1458 L320.2,1422.7" stroke="#0a90c8" stroke-width="1.45" fill="none" stroke-linejoin="round" stroke-linecap="round"/>
<line x1="279.1" y1="1422.7" x2="297.8" y2="1420.8" stroke="#0a90c8" stroke-width="1.45"/>
<line x1="307" y1="1433.5" x2="307" y2="1462" stroke="#0a90c8" stroke-width="1.45"/>
<path d="M283,1449 L283,1463 L305,1474 L317,1470 L317,1459" stroke="#0a90c8" stroke-width="1.45" fill="none" stroke-linejoin="round" stroke-linecap="round"/>
<path d="M326,1243 L355,1257 L354,1262 L325,1248 L326,1243" stroke="#0a90c8" stroke-width="1.45" fill="none" stroke-linejoin="round" stroke-linecap="round"/>
<ellipse cx="346" cy="1254" rx="5" ry="1.3" transform="rotate(26 346 1254)" fill="none" stroke="#0a90c8" stroke-width="1"/>
<path d="M326,1292 L355,1306 L354,1311 L325,1297 L326,1292" stroke="#0a90c8" stroke-width="1.45" fill="none" stroke-linejoin="round" stroke-linecap="round"/>
<ellipse cx="346" cy="1303" rx="5" ry="1.3" transform="rotate(26 346 1303)" fill="none" stroke="#0a90c8" stroke-width="1"/>
<path d="M330,1342 L359,1356 L358,1361 L329,1347 L330,1342" stroke="#0a90c8" stroke-width="1.45" fill="none" stroke-linejoin="round" stroke-linecap="round"/>
<ellipse cx="350" cy="1353" rx="5" ry="1.3" transform="rotate(26 350 1353)" fill="none" stroke="#0a90c8" stroke-width="1"/>
<path d="M332,1392 L361,1406 L360,1411 L331,1397 L332,1392" stroke="#0a90c8" stroke-width="1.45" fill="none" stroke-linejoin="round" stroke-linecap="round"/>
<ellipse cx="352" cy="1403" rx="5" ry="1.3" transform="rotate(26 352 1403)" fill="none" stroke="#0a90c8" stroke-width="1"/>
<circle cx="321" cy="1264" r="2.2" fill="#0a90c8"/>
<circle cx="307" cy="1296" r="1.8" fill="#0a90c8"/>
<circle cx="309" cy="1350" r="2.2" fill="#0a90c8"/>
<circle cx="324" cy="1349" r="2.2" fill="#0a90c8"/>
<circle cx="343" cy="1385" r="1.8" fill="#0a90c8"/>
<path d="M473.3,1321.9 C473.6,1331.6 474.4,1357 475,1380 C475.6,1403 476.6,1435.4 477,1460 C477.4,1484.6 477.4,1516.2 477.5,1527.5" stroke="#0a90c8" stroke-width="1.45" fill="none" stroke-linejoin="round" stroke-linecap="round"/>
<path d="M486.3,1329.3 C486.9,1341.1 488.7,1366.3 490,1400 C491.3,1433.7 493.6,1509.3 494.3,1531.2" stroke="#0a90c8" stroke-width="1.45" fill="none" stroke-linejoin="round" stroke-linecap="round"/>
<path d="M499.4,1320 C500,1330 502,1360 503,1380 C504,1400 504.7,1415 505.5,1440 C506.3,1465 507.6,1515 508,1530" stroke="#0a90c8" stroke-width="1.45" fill="none" stroke-linejoin="round" stroke-linecap="round"/>
<path d="M505.5,1340.8 C506.6,1354 509.5,1390.1 512,1420 C514.5,1449.9 519,1503.3 520.4,1520" stroke="#0a90c8" stroke-width="1.45" fill="none" stroke-linejoin="round" stroke-linecap="round"/>
<path d="M472,1318 L485,1318 L493,1330 L480,1332" stroke="#0a90c8" stroke-width="1.45" fill="none" stroke-linejoin="round" stroke-linecap="round"/>
<circle cx="474" cy="1336" r="1.8" fill="#0a90c8"/>
<path d="M228.7,1228.5 C229.2,1240.4 230.8,1278.1 232,1300 C233.2,1321.9 234.4,1343.9 236,1360 C237.6,1376.1 240.8,1390.4 241.8,1396.5" stroke="#0a90c8" stroke-width="1.45" fill="none" stroke-linejoin="round" stroke-linecap="round"/>
<path d="M232.5,1228.5 C233.1,1240.4 234.8,1278.1 236,1300 C237.2,1321.9 238.5,1343.9 240,1360 C241.5,1376.1 244.2,1390.4 245,1396.5" stroke="#0a90c8" stroke-width="1.45" fill="none" stroke-linejoin="round" stroke-linecap="round"/>
<path d="M240,1230.4 C240.5,1242 241.8,1278.4 243,1300 C244.2,1321.6 245.7,1343.9 247,1360 C248.3,1376.1 250.4,1390.4 251.1,1396.5" stroke="#0a90c8" stroke-width="1.45" fill="none" stroke-linejoin="round" stroke-linecap="round"/>
<path d="M245.5,1230.4 C245.9,1242 246.9,1278.4 248,1300 C249.1,1321.6 250.7,1343.9 252,1360 C253.3,1376.1 255.3,1390.4 256,1396.5" stroke="#0a90c8" stroke-width="1.45" fill="none" stroke-linejoin="round" stroke-linecap="round"/>
<path d="M260.5,1208 C260.6,1216.7 260.7,1243.5 261,1260 C261.3,1276.5 261.5,1292.8 262.3,1307 C263.1,1321.2 264.8,1333.5 266,1345 C267.2,1356.5 269.2,1370.8 269.8,1376" stroke="#0a90c8" stroke-width="1.45" fill="none" stroke-linejoin="round" stroke-linecap="round"/>
<line x1="262" y1="1211" x2="264" y2="1307" stroke="#0a90c8" stroke-width="1.45"/>
<line x1="268" y1="1196.8" x2="307.1" y2="1223" stroke="#0a90c8" stroke-width="1.45"/>
<line x1="275.4" y1="1183.7" x2="309" y2="1211.7" stroke="#0a90c8" stroke-width="1.45"/>
<line x1="272" y1="1186" x2="309" y2="1209" stroke="#0a90c8" stroke-width="1.45"/>
<path d="M293,1216 L300,1212 L305,1222 L300,1232 L296,1226" stroke="#0a90c8" stroke-width="1.45" fill="none" stroke-linejoin="round" stroke-linecap="round"/>
<path d="M252,1305 L262,1305 L265,1388 L255,1392 L252,1305" stroke="#0a90c8" stroke-width="1.45" fill="none" stroke-linejoin="round" stroke-linecap="round"/>
<path d="M380,1180 C378.3,1190 372.8,1221.3 370,1240 C367.2,1258.7 364.2,1283.3 363.1,1292" stroke="#0a90c8" stroke-width="1.45" fill="none" stroke-linejoin="round" stroke-linecap="round"/>
<path d="M389.3,1180 C387.4,1190 381.2,1221.3 378,1240 C374.8,1258.7 371.3,1283.3 370,1292" stroke="#0a90c8" stroke-width="1.45" fill="none" stroke-linejoin="round" stroke-linecap="round"/>
<path d="M404.2,1180 C402.7,1190 397.4,1221.7 395,1240 C392.6,1258.3 390.8,1281.7 390,1290" stroke="#0a90c8" stroke-width="1.45" fill="none" stroke-linejoin="round" stroke-linecap="round"/>
<path d="M409.8,1180 C408.2,1190 402.5,1221.7 400,1240 C397.5,1258.3 395.8,1281.7 395,1290" stroke="#0a90c8" stroke-width="1.45" fill="none" stroke-linejoin="round" stroke-linecap="round"/>
<path d="M430.3,1180 C428.6,1185 422.8,1200.7 420,1210 C417.2,1219.3 415.2,1224.3 413.5,1236 C411.8,1247.7 410.6,1272.7 410,1280" stroke="#0a90c8" stroke-width="1.45" fill="none" stroke-linejoin="round" stroke-linecap="round"/>
<line x1="334.4" y1="1320.4" x2="385.6" y2="1288.4" stroke="#0a90c8" stroke-width="1.45"/>
<line x1="334.4" y1="1322.8" x2="386" y2="1290" stroke="#0a90c8" stroke-width="1.45"/>
<line x1="335.2" y1="1329.2" x2="386.4" y2="1297.2" stroke="#0a90c8" stroke-width="1.45"/>
<line x1="385.6" y1="1288.4" x2="386.4" y2="1298" stroke="#0a90c8" stroke-width="1.45"/>
<line x1="335.2" y1="1337.2" x2="370.4" y2="1314" stroke="#0a90c8" stroke-width="1.45"/>
<line x1="370.4" y1="1314" x2="363.2" y2="1311.6" stroke="#0a90c8" stroke-width="1.45"/>
<line x1="368.8" y1="1250" x2="364" y2="1290.8" stroke="#0a90c8" stroke-width="1.45"/>
<line x1="380" y1="1250" x2="375.2" y2="1294" stroke="#0a90c8" stroke-width="1.45"/>
<line x1="389.6" y1="1254.8" x2="386.4" y2="1288.4" stroke="#0a90c8" stroke-width="1.45"/>
<line x1="364" y1="1290.8" x2="374.4" y2="1294.8" stroke="#0a90c8" stroke-width="1.45"/>
<line x1="376" y1="1284.4" x2="385.6" y2="1288.4" stroke="#0a90c8" stroke-width="1.45"/>
<line x1="346.4" y1="1301.2" x2="364" y2="1290.8" stroke="#0a90c8" stroke-width="1.45"/>
<line x1="382.4" y1="1250.8" x2="440" y2="1287.6" stroke="#0a90c8" stroke-width="1.45"/>
<line x1="405.6" y1="1266" x2="398.4" y2="1303.6" stroke="#0a90c8" stroke-width="1.45"/>
<line x1="412" y1="1270" x2="404.8" y2="1307.6" stroke="#0a90c8" stroke-width="1.45"/>
<line x1="418.4" y1="1274" x2="412" y2="1309.2" stroke="#0a90c8" stroke-width="1.45"/>
<path d="M386.4,1298 C388.3,1299 394.4,1302.1 398,1304 C401.6,1305.9 401,1308.3 408,1309.2 C415,1310.1 429.8,1310.2 440,1309.2 C450.2,1308.2 464.6,1304.2 469.5,1303.2" stroke="#0a90c8" stroke-width="1.45" fill="none" stroke-linejoin="round" stroke-linecap="round"/>
<ellipse cx="424.4" cy="1317.6" rx="11.6" ry="6.4" transform="rotate(0 424.4 1317.6)" fill="none" stroke="#0a90c8" stroke-width="1"/>
<circle cx="407.2" cy="1262" r="2" fill="#0a90c8"/>
<path d="M333.3,1413.3 C338.6,1411.1 353.9,1402 365,1400.3 C376.1,1398.6 386,1401.5 400,1403 C414,1404.5 436.8,1406.3 449,1409.6 C461.2,1412.9 469.2,1420.5 473.3,1422.7" stroke="#0a90c8" stroke-width="1.45" fill="none" stroke-linejoin="round" stroke-linecap="round"/>
<path d="M406.1,1387.2 L473.3,1348 L475.1,1394.7 L421,1398.4 L406.1,1387.2" stroke="#0a90c8" stroke-width="1.45" fill="none" stroke-linejoin="round" stroke-linecap="round"/>
<circle cx="388" cy="1386" r="2.2" fill="#0a90c8"/>
<circle cx="363" cy="1398" r="1.5" fill="#0a90c8"/>
<circle cx="457" cy="1405" r="1.5" fill="#0a90c8"/>
<circle cx="475" cy="1395" r="1.5" fill="#0a90c8"/>
<circle cx="441" cy="1363" r="2" fill="#0a90c8"/>
<line x1="486.8" y1="1316.5" x2="574.5" y2="1363.2" stroke="#0a90c8" stroke-width="1.45"/>
<line x1="486.8" y1="1322.1" x2="572" y2="1368" stroke="#0a90c8" stroke-width="1.45"/>
<line x1="498" y1="1288.5" x2="574.5" y2="1329.6" stroke="#0a90c8" stroke-width="1.45"/>
<path d="M559,1356 L572,1360 L575,1370 L562,1366" stroke="#0a90c8" stroke-width="1.45" fill="none" stroke-linejoin="round" stroke-linecap="round"/>
<path d="M475,1320 L485,1318 L490,1330" stroke="#0a90c8" stroke-width="1.45" fill="none" stroke-linejoin="round" stroke-linecap="round"/>
<path d="M683,1324 L689,1327 L688,1345 L683,1378 L690,1386 L726,1380 L728,1366" stroke="#0a90c8" stroke-width="1.1" fill="none" stroke-linejoin="round" stroke-linecap="round"/>
<path d="M600.7,1410 L621,1393 L640,1397 L654.8,1412 L630,1428 L620,1435 L617,1445 L600.7,1464" stroke="#0a90c8" stroke-width="1.1" fill="none" stroke-linejoin="round" stroke-linecap="round"/>
<line x1="597" y1="1557.3" x2="703.3" y2="1490.1" stroke="#0a90c8" stroke-width="1.45"/>
<line x1="597" y1="1566.7" x2="682.8" y2="1514.4" stroke="#0a90c8" stroke-width="1.45"/>
<line x1="600" y1="1562" x2="690" y2="1506" stroke="#0a90c8" stroke-width="1.45"/>
<line x1="597" y1="1577.9" x2="681" y2="1536.8" stroke="#0a90c8" stroke-width="1.45"/>
<ellipse cx="681" cy="1466" rx="5" ry="3" transform="rotate(-20 681 1466)" fill="none" stroke="#0a90c8" stroke-width="1"/>
<circle cx="624" cy="1402" r="1.5" fill="#0a90c8"/>
<circle cx="661" cy="1436" r="1.5" fill="#0a90c8"/>
<line x1="479.3" y1="1527.5" x2="567" y2="1561" stroke="#0a90c8" stroke-width="1.45"/>
<line x1="479.3" y1="1536" x2="567" y2="1568" stroke="#0a90c8" stroke-width="1.45"/>
<line x1="479.3" y1="1545" x2="567" y2="1574.1" stroke="#0a90c8" stroke-width="1.45"/>
<path d="M494.3,1557.3 L494.3,1575 L548.4,1591 L548.4,1570" stroke="#0a90c8" stroke-width="1.45" fill="none" stroke-linejoin="round" stroke-linecap="round"/>
<path d="M523,1566 L523,1588" stroke="#0a90c8" stroke-width="1.45" fill="none" stroke-linejoin="round" stroke-linecap="round"/>
<path d="M520,1540 L530,1537 L536,1545 L535,1552 L524,1550 L520,1540" stroke="#0a90c8" stroke-width="1.45" fill="none" stroke-linejoin="round" stroke-linecap="round"/>
<ellipse cx="527" cy="1545" rx="3" ry="2" transform="rotate(0 527 1545)" fill="none" stroke="#0a90c8" stroke-width="1"/>
<line x1="516.7" y1="1447.2" x2="539.1" y2="1499.5" stroke="#0a90c8" stroke-width="1.45"/>
<line x1="539.1" y1="1499.5" x2="520.4" y2="1510.7" stroke="#0a90c8" stroke-width="1.45"/>
<line x1="557.7" y1="1538.7" x2="570.8" y2="1482.7" stroke="#0a90c8" stroke-width="1.45"/>
<circle cx="515" cy="1460" r="2.2" fill="#0a90c8"/>
<circle cx="535" cy="1460" r="1.5" fill="#0a90c8"/>
<circle cx="544" cy="1467" r="1.5" fill="#0a90c8"/>
<circle cx="552" cy="1440" r="2.5" fill="#0a90c8"/>
<circle cx="557" cy="1448" r="1.5" fill="#0a90c8"/>
<circle cx="505" cy="1390" r="1.3" fill="#0a90c8"/>
<circle cx="500" cy="1452" r="1.3" fill="#0a90c8"/>
<path d="M556,1405 L565,1420 L556,1440 L545,1432" stroke="#0a90c8" stroke-width="1.45" fill="none" stroke-linejoin="round" stroke-linecap="round"/>
<path d="M478,1290 C479.7,1291.7 485.3,1295.8 488,1300 C490.7,1304.2 492.8,1308.3 494.3,1315 C495.8,1321.7 496.6,1335.8 497,1340" stroke="#0a90c8" stroke-width="1.45" fill="none" stroke-linejoin="round" stroke-linecap="round"/>
<path d="M861,1158 C856.5,1162.3 843.2,1174.5 834,1184 C824.8,1193.5 815.7,1203.1 805.9,1215.3 C796.1,1227.5 784.2,1242.8 775,1257 C765.8,1271.2 757.6,1286.4 750.4,1300.7 C743.2,1315 737.3,1328.8 732,1343 C726.7,1357.2 722.4,1373.2 718.4,1386 C714.4,1398.8 710.7,1409.3 708,1420 C705.3,1430.7 703.8,1440.3 702.4,1450 C701,1459.7 700,1473.3 699.5,1478" stroke="#0a90c8" stroke-width="1.45" fill="none" stroke-linejoin="round" stroke-linecap="round"/>
<path d="M863,1162 C858.8,1166.2 846.8,1178.1 838,1187 C829.2,1195.9 819.9,1203.6 810.1,1215.3 C800.3,1227 788.2,1242.8 779,1257 C769.8,1271.2 761.7,1286.4 754.7,1300.7 C747.7,1315 742.3,1328.8 737,1343 C731.7,1357.2 727,1373.2 722.7,1386 C718.4,1398.8 713.9,1409.3 711,1420 C708.1,1430.7 706.9,1440 705.6,1450 C704.3,1460 703.4,1475 703,1480" stroke="#0a90c8" stroke-width="1.45" fill="none" stroke-linejoin="round" stroke-linecap="round"/>
<path d="M866,1168 C862,1171.8 850.6,1183.1 842,1191 C833.4,1198.9 824.1,1204.3 814.4,1215.3 C804.7,1226.3 793.1,1242.8 784,1257 C774.9,1271.2 767,1286.4 760,1300.7 C753,1315 747.3,1328.8 742,1343 C736.7,1357.2 732.3,1373.2 728,1386 C723.7,1398.8 719,1409.3 716,1420 C713,1430.7 711.4,1439.8 709.9,1450 C708.4,1460.2 707.5,1475.8 707,1481" stroke="#0a90c8" stroke-width="1.45" fill="none" stroke-linejoin="round" stroke-linecap="round"/>
<path d="M872,1182 C868.8,1184.7 860.1,1192.5 853,1198 C845.9,1203.5 838.6,1205.5 829.3,1215.3 C820,1225.1 806.6,1242.8 797,1257 C787.4,1271.2 779.2,1286.4 771.7,1300.7 C764.2,1315 757.7,1328.8 752,1343 C746.3,1357.2 742.3,1373.2 737.6,1386 C732.9,1398.8 727.5,1409.3 724,1420 C720.5,1430.7 718.6,1439.6 716.3,1450 C714,1460.4 711,1477.1 710,1482.5" stroke="#0a90c8" stroke-width="2.0" fill="none" stroke-linejoin="round" stroke-linecap="round"/>
<path d="M885,1195 C882.8,1196.3 877,1199.6 872,1203 C867,1206.4 864.2,1206.3 854.9,1215.3 C845.6,1224.3 827.2,1242.8 816,1257 C804.8,1271.2 796,1286.4 787.7,1300.7 C779.4,1315 772.2,1328.8 766,1343 C759.8,1357.2 755.2,1373.2 750.4,1386 C745.6,1398.8 740.6,1409.3 737,1420 C733.4,1430.7 730.3,1445 729,1450" stroke="#0a90c8" stroke-width="1.45" fill="none" stroke-linejoin="round" stroke-linecap="round"/>
<path d="M893,1198 C890.5,1199.3 883.3,1203.1 878,1206 C872.7,1208.9 870.5,1206.8 861.3,1215.3 C852.1,1223.8 834,1242.8 823,1257 C812,1271.2 803.5,1286.4 795.2,1300.7 C786.9,1315 779.4,1328.8 773,1343 C766.6,1357.2 761.8,1373.2 756.8,1386 C751.8,1398.8 746.5,1410.2 743,1420 C739.5,1429.8 736.8,1440.8 735.5,1445" stroke="#0a90c8" stroke-width="1.45" fill="none" stroke-linejoin="round" stroke-linecap="round"/>
<path d="M900,1200 C897.5,1201.3 890.4,1205.5 885,1208 C879.6,1210.5 876.7,1207.1 867.7,1215.3 C858.7,1223.5 841.7,1242.8 831,1257 C820.3,1271.2 811.9,1286.4 803.7,1300.7 C795.5,1315 788.4,1328.8 782,1343 C775.6,1357.2 770.3,1373.2 765.3,1386 C760.3,1398.8 754.2,1414.3 752,1420" stroke="#0a90c8" stroke-width="1.45" fill="none" stroke-linejoin="round" stroke-linecap="round"/>
<path d="M699.5,1478 Q702,1485 710,1482.5" stroke="#0a90c8" stroke-width="1.45" fill="none" stroke-linejoin="round" stroke-linecap="round"/>
<line x1="873.7" y1="1223.6" x2="946.5" y2="1156" stroke="#0a90c8" stroke-width="1.45"/>
<line x1="880" y1="1225" x2="950" y2="1162" stroke="#0a90c8" stroke-width="1.45"/>
<line x1="862.4" y1="1204" x2="913.6" y2="1207.2" stroke="#0a90c8" stroke-width="1.45"/>
<path d="M913.6,1207.2 L920,1247.2 L912,1255.2" stroke="#0a90c8" stroke-width="1.45" fill="none" stroke-linejoin="round" stroke-linecap="round"/>
<line x1="808" y1="1316" x2="878.4" y2="1272.8" stroke="#0a90c8" stroke-width="1.45"/>
<path d="M878.4,1264.8 L897.6,1253.6 L904,1250.4 L909,1254 L920,1295.2 L918.4,1301.6 L908.8,1306.4" stroke="#0a90c8" stroke-width="1.45" fill="none" stroke-linejoin="round" stroke-linecap="round"/>
<path d="M878.4,1264.8 L883,1263 L886.4,1266.4 L896,1311.2" stroke="#0a90c8" stroke-width="1.45" fill="none" stroke-linejoin="round" stroke-linecap="round"/>
<path d="M878.4,1272.8 L862,1288.8 L863,1295 L893,1313" stroke="#0a90c8" stroke-width="1.45" fill="none" stroke-linejoin="round" stroke-linecap="round"/>
<path d="M886.4,1266.4 L900,1262 L906,1302 L896,1311.2" stroke="#0a90c8" stroke-width="1.45" fill="none" stroke-linejoin="round" stroke-linecap="round"/>
<path d="M910.4,1207.2 L913.5,1206 L920,1237 L916,1239.2 L910.4,1207.2" stroke="#0a90c8" stroke-width="1.45" fill="none" stroke-linejoin="round" stroke-linecap="round"/>
<path d="M932.8,1202.4 L940.8,1205 L940,1208 L932,1205.5" stroke="#0a90c8" stroke-width="1.45" fill="none" stroke-linejoin="round" stroke-linecap="round"/>
<circle cx="890.4" cy="1240.8" r="1.5" fill="#0a90c8"/>
<path d="M779,1218 L806,1231 L805,1238 L778,1225 L779,1218" stroke="#0a90c8" stroke-width="1.45" fill="none" stroke-linejoin="round" stroke-linecap="round"/>
<ellipse cx="790" cy="1226" rx="4" ry="1.2" transform="rotate(26 790 1226)" fill="none" stroke="#0a90c8" stroke-width="1"/>
<ellipse cx="788" cy="1307" rx="4.5" ry="3.5" transform="rotate(-30 788 1307)" fill="none" stroke="#0a90c8" stroke-width="1"/>
<ellipse cx="786" cy="1306" rx="2" ry="2" transform="rotate(0 786 1306)" fill="none" stroke="#0a90c8" stroke-width="1"/>
<ellipse cx="807.2" cy="1281.6" rx="2" ry="2" transform="rotate(0 807.2 1281.6)" fill="none" stroke="#0a90c8" stroke-width="1"/>
<path d="M861.6,1130 L873,1220" stroke="#0a90c8" stroke-width="1.45" fill="none" stroke-linejoin="round" stroke-linecap="round"/>
<path d="M868,1130 L880,1218" stroke="#0a90c8" stroke-width="1.45" fill="none" stroke-linejoin="round" stroke-linecap="round"/>
<path d="M884,1130 L892,1218" stroke="#0a90c8" stroke-width="1.45" fill="none" stroke-linejoin="round" stroke-linecap="round"/>
<path d="M896,1130 L896.3,1218.4" stroke="#0a90c8" stroke-width="1.45" fill="none" stroke-linejoin="round" stroke-linecap="round"/>
<line x1="906" y1="1170" x2="915" y2="1240" stroke="#0a90c8" stroke-width="1.45"/>
<line x1="607.3" y1="1252" x2="738" y2="1326.7" stroke="#0a90c8" stroke-width="1.45"/>
<line x1="607.3" y1="1256" x2="736" y2="1330" stroke="#0a90c8" stroke-width="1.45"/>
<ellipse cx="616" cy="1301" rx="10.5" ry="12.3" transform="rotate(-20 616 1301)" fill="none" stroke="#0a90c8" stroke-width="1"/>
<path d="M604.7,1317 L610,1319 L611.3,1331 L605,1334" stroke="#0a90c8" stroke-width="1.45" fill="none" stroke-linejoin="round" stroke-linecap="round"/>
<ellipse cx="623.3" cy="1198.7" rx="2.2" ry="1.4" transform="rotate(0 623.3 1198.7)" fill="none" stroke="#0a90c8" stroke-width="1.3"/>
<ellipse cx="616.7" cy="1232" rx="2.2" ry="1.4" transform="rotate(0 616.7 1232)" fill="none" stroke="#0a90c8" stroke-width="1.3"/>
<ellipse cx="626" cy="1231.3" rx="2.2" ry="1.4" transform="rotate(0 626 1231.3)" fill="none" stroke="#0a90c8" stroke-width="1.3"/>
<ellipse cx="641.3" cy="1240" rx="2.2" ry="1.4" transform="rotate(0 641.3 1240)" fill="none" stroke="#0a90c8" stroke-width="1.3"/>
<ellipse cx="689.3" cy="1268" rx="2.2" ry="1.4" transform="rotate(0 689.3 1268)" fill="none" stroke="#0a90c8" stroke-width="1.3"/>
<ellipse cx="704.7" cy="1276.7" rx="2.2" ry="1.4" transform="rotate(0 704.7 1276.7)" fill="none" stroke="#0a90c8" stroke-width="1.3"/>
<ellipse cx="703.3" cy="1282" rx="2.2" ry="1.4" transform="rotate(0 703.3 1282)" fill="none" stroke="#0a90c8" stroke-width="1.3"/>
<ellipse cx="775.3" cy="1218" rx="2.2" ry="1.4" transform="rotate(0 775.3 1218)" fill="none" stroke="#0a90c8" stroke-width="1.3"/>
<ellipse cx="779.3" cy="1233.3" rx="2.2" ry="1.4" transform="rotate(0 779.3 1233.3)" fill="none" stroke="#0a90c8" stroke-width="1.3"/>
<ellipse cx="787.3" cy="1232.7" rx="2.2" ry="1.4" transform="rotate(0 787.3 1232.7)" fill="none" stroke="#0a90c8" stroke-width="1.3"/>
<ellipse cx="710" cy="1302.7" rx="2.2" ry="1.4" transform="rotate(0 710 1302.7)" fill="none" stroke="#0a90c8" stroke-width="1.3"/>
<path d="M712.7,1300 L743.3,1284 L756.7,1290.7" stroke="#0a90c8" stroke-width="1.45" fill="none" stroke-linejoin="round" stroke-linecap="round"/>
<path d="M713,1301 L739.3,1320" stroke="#0a90c8" stroke-width="1.45" fill="none" stroke-linejoin="round" stroke-linecap="round"/>
<path d="M679.3,1377.3 L687.3,1324 L724.7,1344 L727,1352" stroke="#0a90c8" stroke-width="1.45" fill="none" stroke-linejoin="round" stroke-linecap="round"/>
<line x1="604.7" y1="1348" x2="659.3" y2="1380" stroke="#0a90c8" stroke-width="1.45"/>
<path d="M707.3,1353.3 L735.3,1366 L734,1372 L706,1359 L707.3,1353.3" stroke="#0a90c8" stroke-width="1.45" fill="none" stroke-linejoin="round" stroke-linecap="round"/>
<ellipse cx="716" cy="1358" rx="4" ry="1.2" transform="rotate(26 716 1358)" fill="none" stroke="#0a90c8" stroke-width="1"/>
<ellipse cx="784" cy="1306.7" rx="3" ry="3" transform="rotate(0 784 1306.7)" fill="none" stroke="#0a90c8" stroke-width="1"/>
<line x1="516.8" y1="1200.8" x2="574.4" y2="1234.4" stroke="#0a90c8" stroke-width="1.45"/>
<line x1="516.8" y1="1200.8" x2="500" y2="1287.2" stroke="#0a90c8" stroke-width="1.45"/>
<line x1="540.8" y1="1200.8" x2="574.4" y2="1181.6" stroke="#0a90c8" stroke-width="1.45"/>
<path d="M541,1201 L566,1216 L574,1212" stroke="#0a90c8" stroke-width="1.45" fill="none" stroke-linejoin="round" stroke-linecap="round"/>
<path d="M552,1196 L572,1185 L575,1195 L560,1204" stroke="#0a90c8" stroke-width="1.45" fill="none" stroke-linejoin="round" stroke-linecap="round"/>
<line x1="523" y1="1195" x2="574" y2="1166" stroke="#0a90c8" stroke-width="1.45"/>
<line x1="521" y1="1190" x2="574" y2="1160" stroke="#0a90c8" stroke-width="1.45"/>
<circle cx="536" cy="1195" r="1.3" fill="#0a90c8"/>
<circle cx="571" cy="1222" r="1.3" fill="#0a90c8"/>
<circle cx="536" cy="1226" r="1.3" fill="#0a90c8"/>
<ellipse cx="535" cy="1229" rx="1.6" ry="2.4" transform="rotate(0 535 1229)" fill="none" stroke="#0a90c8" stroke-width="1.2"/>
<ellipse cx="532" cy="1248" rx="1.6" ry="2.4" transform="rotate(0 532 1248)" fill="none" stroke="#0a90c8" stroke-width="1.2"/>
<line x1="478.4" y1="1421.6" x2="509.6" y2="1421.6" stroke="#0a90c8" stroke-width="1.45"/>
<path d="M514.4,1448 L538.4,1496 L530,1510 L520,1518" stroke="#0a90c8" stroke-width="1.45" fill="none" stroke-linejoin="round" stroke-linecap="round"/>
<path d="M555,1422 L568,1416 L579,1418" stroke="#0a90c8" stroke-width="1.45" fill="none" stroke-linejoin="round" stroke-linecap="round"/>
<path d="M555,1450 L569,1443 L579,1447" stroke="#0a90c8" stroke-width="1.45" fill="none" stroke-linejoin="round" stroke-linecap="round"/>
<circle cx="544" cy="1467" r="2" fill="#0a90c8"/>
<ellipse cx="553" cy="1486" rx="1.6" ry="1.2" transform="rotate(0 553 1486)" fill="none" stroke="#0a90c8" stroke-width="1.1"/>
<ellipse cx="530" cy="1489" rx="1.6" ry="1.2" transform="rotate(0 530 1489)" fill="none" stroke="#0a90c8" stroke-width="1.1"/>
<path d="M311.6,765.4 L241.3,805.5 L207.3,833.9 L175,870 L157.5,892.8 L134.8,926.8 L120.8,950 L98.4,998 L84,1038 L74.4,1078 L69.6,1114.8 L74.4,1130.8 L92,1146.8 L127.2,1168.4 L133.6,1170.8 L140,1162.8 L141.6,1150 L149.6,1102 L162.4,1054 L184.8,998 L212,950 L218.7,942.7 L257.2,895 L309.3,847.5 L368.3,808.9 L377.3,803.3 L381.9,798.7 L372.8,791.9Z" stroke="none" stroke-width="0" fill="#fff" stroke-linejoin="round" stroke-linecap="round"/>
<path d="M311.6,765.4 L241.3,805.5  C235.6,810.2 218.4,823.1 207.3,833.9 C196.2,844.6 183.3,860.2 175,870 C166.7,879.8 164.2,883.3 157.5,892.8 C150.8,902.3 140.9,917.3 134.8,926.8 C128.7,936.3 126.9,938.1 120.8,950 C114.7,961.9 104.5,983.3 98.4,998 C92.3,1012.7 88,1024.7 84,1038 C80,1051.3 76.8,1065.2 74.4,1078 C72,1090.8 69.6,1106 69.6,1114.8 C69.6,1123.6 70.7,1125.5 74.4,1130.8 C78.1,1136.1 83.2,1140.5 92,1146.8 C100.8,1153.1 121.3,1164.8 127.2,1168.4" stroke="#000" stroke-width="2.6" fill="none" stroke-linejoin="round" stroke-linecap="round"/>
<path d="M311.6,765.4 L373.2,791.2 Q383,795 381.6,800 Q380,804 370.4,804.5 L367.6,807" stroke="#000" stroke-width="2.4" fill="none" stroke-linejoin="round" stroke-linecap="round"/>
<ellipse cx="374.5" cy="797.5" rx="3.5" ry="2.5" fill="none" stroke="#000" stroke-width="1"/>
<path d="M127.2,1168.4 Q133.6,1172.5 137.5,1169 Q140.5,1166 140,1162.8" stroke="#000" stroke-width="2.6" fill="none" stroke-linejoin="round" stroke-linecap="round"/>
<path d="M371.8,793.3 C367.3,795.6 353.6,802.2 345,807 C336.4,811.8 328.8,816.7 320,822 C311.2,827.3 300.9,832.3 292,838.8 C283.1,845.3 274.5,853.7 266.8,861.2 C259.1,868.7 253.3,874.7 245.8,883.6 C238.3,892.5 228.6,905.5 222,914.4 C215.4,923.3 211.4,929.4 206,937 C200.6,944.6 195.5,951.2 189.8,960 C184.1,968.8 178.7,976.7 172,990 C165.3,1003.3 155.7,1022.3 149.6,1039.6 C143.5,1056.9 138.7,1076.9 135.2,1094 C131.7,1111.1 130.1,1129.6 128.8,1142 C127.5,1154.4 127.5,1164 127.2,1168.4" stroke="#000" stroke-width="1.4" fill="none" stroke-linejoin="round" stroke-linecap="round"/>
<path d="M370,792 C365.8,794.2 353.3,800.3 345,805 C336.7,809.7 328.8,814.7 320,820 C311.2,825.3 301,830.5 292,837 C283,843.5 273,852.5 266,859 C259,865.5 252.7,873.2 250,876" stroke="#000" stroke-width="0.8" fill="none" stroke-linejoin="round" stroke-linecap="round"/>
<path d="M367.6,808 C361.1,812.4 338,828.3 328.4,834.6 C318.8,840.9 318.1,840 310.2,845.8 C302.3,851.6 289.7,861.7 280.8,869.6 C271.9,877.5 264.5,885.5 257,893.4 C249.5,901.3 242.5,909.1 236,917.2 C229.5,925.3 223.1,934.9 218,942 C212.9,949.1 210.7,950.7 205.2,960 C199.7,969.3 190.3,987.2 184.8,998 C179.3,1008.8 175.7,1015.7 172,1025 C168.3,1034.3 165.2,1045.2 162.4,1054 C159.6,1062.8 157.1,1070 155,1078 C152.9,1086 151.3,1094 149.6,1102 C147.9,1110 146.3,1118 145,1126 C143.7,1134 142.4,1143.9 141.6,1150 C140.8,1156.1 140.3,1160.7 140,1162.8" stroke="#000" stroke-width="2.6" fill="none" stroke-linejoin="round" stroke-linecap="round"/>
<ellipse cx="315" cy="835.7" rx="1.6" ry="2.6" transform="rotate(30 315 835.7)" fill="none" stroke="#000" stroke-width="1"/>
<ellipse cx="244.7" cy="897.8" rx="1.6" ry="2.6" transform="rotate(30 244.7 897.8)" fill="none" stroke="#000" stroke-width="1"/>
<ellipse cx="186.2" cy="984.5" rx="1.6" ry="2.6" transform="rotate(30 186.2 984.5)" fill="none" stroke="#000" stroke-width="1"/>
<ellipse cx="146.4" cy="1087.6" rx="1.6" ry="2.6" transform="rotate(30 146.4 1087.6)" fill="none" stroke="#000" stroke-width="1"/>
<ellipse cx="136" cy="1158.8" rx="1.6" ry="2.6" transform="rotate(30 136 1158.8)" fill="none" stroke="#000" stroke-width="1"/>
<circle cx="328.6" cy="835" r="1.6" fill="#000"/>
<circle cx="310.5" cy="847" r="1.6" fill="#000"/>
<circle cx="282.1" cy="869" r="1.6" fill="#000"/>
<circle cx="257.2" cy="894" r="1.6" fill="#000"/>
<circle cx="243.6" cy="909.8" r="1.6" fill="#000"/>
<circle cx="218.7" cy="941.5" r="1.6" fill="#000"/>
<circle cx="196" cy="977" r="1.6" fill="#000"/>
<circle cx="185.6" cy="998" r="1.6" fill="#000"/>
<circle cx="168" cy="1038" r="1.6" fill="#000"/>
<circle cx="155.2" cy="1076.4" r="1.6" fill="#000"/>
<circle cx="148.8" cy="1103.6" r="1.6" fill="#000"/>
<path d="M375,797 L377.5,801" stroke="#000" stroke-width="1" fill="none" stroke-linejoin="round" stroke-linecap="round"/>
<line x1="375.1" y1="803" x2="375.1" y2="846" stroke="#000" stroke-width="1.2" stroke-dasharray="3,2"/>
<ellipse cx="375.1" cy="819.1" rx="4" ry="2.8" fill="#fff" stroke="#000" stroke-width="1.3"/>
<ellipse cx="375.1" cy="819.1" rx="1.6" ry="1.1199999999999999" fill="#444" stroke="none"/>
<ellipse cx="375.1" cy="832.7" rx="3.2" ry="2.2" fill="#fff" stroke="#000" stroke-width="1.3"/>
<ellipse cx="375.1" cy="832.7" rx="1.2800000000000002" ry="0.8800000000000001" fill="#444" stroke="none"/>
<circle cx="375.1" cy="844.1" r="2.5" fill="#fff" stroke="#000" stroke-width="1.2"/>
<path d="M315.2,768.7 L329.4,787.4 L358.5,732.5 L367.3,742" stroke="#000" stroke-width="1.2" fill="none" stroke-dasharray="7,4" stroke-linejoin="round" stroke-linecap="round"/>
<path d="M375,790.8 L432,784" stroke="#000" stroke-width="1.3" fill="none" stroke-dasharray="7,4" stroke-linejoin="round" stroke-linecap="round"/>
<line x1="318.4" y1="846.3" x2="320.7" y2="882.6" stroke="#000" stroke-width="1.2" stroke-dasharray="8,3,2,3"/>
<line x1="248.1" y1="904.1" x2="273.1" y2="951.7" stroke="#000" stroke-width="1.2" stroke-dasharray="8,3,2,3"/>
<line x1="190.4" y1="989.2" x2="213.6" y2="1000.4" stroke="#000" stroke-width="1.2" stroke-dasharray="8,3,2,3"/>
<line x1="152.8" y1="1088.4" x2="180" y2="1085.7" stroke="#000" stroke-width="1.2" stroke-dasharray="8,3,2,3"/>
<line x1="143.2" y1="1156.4" x2="171.2" y2="1145.2" stroke="#000" stroke-width="1.2" stroke-dasharray="8,3,2,3"/>
<circle cx="320.7" cy="888.3" r="4.5" fill="#fff" stroke="#000" stroke-width="1.4"/>
<circle cx="319.7" cy="887.3" r="2.025" fill="none" stroke="#000" stroke-width="1"/>
<circle cx="274.2" cy="955.1" r="4.5" fill="#fff" stroke="#000" stroke-width="1.4"/>
<circle cx="273.2" cy="954.1" r="2.025" fill="none" stroke="#000" stroke-width="1"/>
<circle cx="217.6" cy="1002" r="4.5" fill="#fff" stroke="#000" stroke-width="1.4"/>
<circle cx="216.6" cy="1001" r="2.025" fill="none" stroke="#000" stroke-width="1"/>
<circle cx="185.6" cy="1085.2" r="4.5" fill="#fff" stroke="#000" stroke-width="1.4"/>
<circle cx="184.6" cy="1084.2" r="2.025" fill="none" stroke="#000" stroke-width="1"/>
<circle cx="176.8" cy="1142.8" r="4.5" fill="#fff" stroke="#000" stroke-width="1.4"/>
<circle cx="175.8" cy="1141.8" r="2.025" fill="none" stroke="#000" stroke-width="1"/>
<path d="M903.3,1313.3 L890,1320 L842,1346.7 L800,1375 L770,1402 L740,1436 L706,1480 L680,1525 L655.3,1580 L640,1625 L631.3,1668 L634,1684 L639.3,1689.3 L690,1714.7 L700.7,1710.7 L706,1697.3 L725,1660 L743.3,1622.7 L770,1578 L796.7,1540 L820,1510 L844.7,1484 L870,1460 L903.3,1433.3 L943.3,1409.3 L983.3,1390.7 L980.7,1366.7 L972.7,1353.3 L916.7,1316Z" stroke="none" stroke-width="0" fill="#fff" stroke-linejoin="round" stroke-linecap="round"/>
<path d="M903.3,1313.3 C901.1,1314.4 900.2,1314.4 890,1320 C879.8,1325.6 857,1337.5 842,1346.7 C827,1355.9 812,1365.8 800,1375 C788,1384.2 780,1391.8 770,1402 C760,1412.2 750.7,1423 740,1436 C729.3,1449 716,1465.2 706,1480 C696,1494.8 688.5,1508.3 680,1525 C671.5,1541.7 662,1563.3 655.3,1580 C648.6,1596.7 644,1610.3 640,1625 C636,1639.7 632.3,1658.2 631.3,1668 C630.3,1677.8 632.7,1680.5 634,1684 C635.3,1687.5 638.4,1688.4 639.3,1689.3" stroke="#000" stroke-width="2.6" fill="none" stroke-linejoin="round" stroke-linecap="round"/>
<path d="M639.3,1689.3 L690,1714.7 Q699,1716 702,1708 L706,1697.3" stroke="#000" stroke-width="2.6" fill="none" stroke-linejoin="round" stroke-linecap="round"/>
<path d="M983.3,1390.7 C976.6,1393.8 956.6,1402.2 943.3,1409.3 C930,1416.4 915.5,1424.8 903.3,1433.3 C891.1,1441.8 879.8,1451.5 870,1460 C860.2,1468.5 853,1475.7 844.7,1484 C836.4,1492.3 828,1500.7 820,1510 C812,1519.3 805,1528.7 796.7,1540 C788.4,1551.3 778.9,1564.2 770,1578 C761.1,1591.8 750.8,1609 743.3,1622.7 C735.8,1636.4 731.2,1647.6 725,1660 C718.8,1672.4 709.2,1691.1 706,1697.3" stroke="#000" stroke-width="2.6" fill="none" stroke-linejoin="round" stroke-linecap="round"/>
<path d="M983.3,1390.7 L980.7,1366.7 L972.7,1353.3 L916.7,1316 L908,1312 L903.3,1313.3" stroke="#000" stroke-width="2.6" fill="none" stroke-linejoin="round" stroke-linecap="round"/>
<path d="M908.7,1321.3 C900.6,1325.2 874.2,1337 860,1345 C845.8,1353 836.6,1359.3 823.3,1369.3 C810,1379.3 793.3,1390.8 780,1405 C766.7,1419.2 755,1438 743.3,1454.7 C731.6,1471.4 721.1,1487.2 710,1505 C698.9,1522.8 685.9,1542.1 676.7,1561.3 C667.5,1580.5 660.5,1603.5 655,1620 C649.5,1636.5 646.6,1649.3 644,1660 C641.4,1670.7 640.1,1680 639.3,1684" stroke="#000" stroke-width="1.0" fill="none" stroke-linejoin="round" stroke-linecap="round"/>
<circle cx="904.5" cy="1318" r="2" fill="#000"/>
<ellipse cx="843" cy="1353" rx="1.6" ry="2.4" transform="rotate(35 843 1353)" fill="none" stroke="#000" stroke-width="1"/>
<ellipse cx="771" cy="1416" rx="1.6" ry="2.4" transform="rotate(35 771 1416)" fill="none" stroke="#000" stroke-width="1"/>
<ellipse cx="704.7" cy="1501" rx="1.6" ry="2.4" transform="rotate(35 704.7 1501)" fill="none" stroke="#000" stroke-width="1"/>
<ellipse cx="655" cy="1603" rx="1.6" ry="2.4" transform="rotate(35 655 1603)" fill="none" stroke="#000" stroke-width="1"/>
<ellipse cx="634" cy="1670" rx="1.6" ry="2.4" transform="rotate(35 634 1670)" fill="none" stroke="#000" stroke-width="1"/>
<line x1="917" y1="1427" x2="926" y2="1434.7" stroke="#000" stroke-width="1.2" stroke-dasharray="8,3,2,3"/>
<line x1="844" y1="1484" x2="858" y2="1497.3" stroke="#000" stroke-width="1.2" stroke-dasharray="8,3,2,3"/>
<line x1="792" y1="1546" x2="806" y2="1552" stroke="#000" stroke-width="1.2" stroke-dasharray="8,3,2,3"/>
<line x1="744" y1="1623" x2="762" y2="1626.7" stroke="#000" stroke-width="1.2" stroke-dasharray="8,3,2,3"/>
<line x1="710" y1="1692" x2="728.7" y2="1693.3" stroke="#000" stroke-width="1.2" stroke-dasharray="8,3,2,3"/>
<circle cx="926" cy="1434.7" r="4.2" fill="#fff" stroke="#000" stroke-width="1.4"/>
<circle cx="925" cy="1433.7" r="1.8900000000000001" fill="none" stroke="#000" stroke-width="1"/>
<circle cx="858" cy="1497.3" r="4.2" fill="#fff" stroke="#000" stroke-width="1.4"/>
<circle cx="857" cy="1496.3" r="1.8900000000000001" fill="none" stroke="#000" stroke-width="1"/>
<circle cx="806" cy="1552" r="4.2" fill="#fff" stroke="#000" stroke-width="1.4"/>
<circle cx="805" cy="1551" r="1.8900000000000001" fill="none" stroke="#000" stroke-width="1"/>
<circle cx="762" cy="1626.7" r="4.2" fill="#fff" stroke="#000" stroke-width="1.4"/>
<circle cx="761" cy="1625.7" r="1.8900000000000001" fill="none" stroke="#000" stroke-width="1"/>
<circle cx="728.7" cy="1693.3" r="4.2" fill="#fff" stroke="#000" stroke-width="1.4"/>
<circle cx="727.7" cy="1692.3" r="1.8900000000000001" fill="none" stroke="#000" stroke-width="1"/>
<ellipse cx="905" cy="1444" rx="4" ry="2.6" fill="#fff" stroke="#000" stroke-width="1.3"/>
<ellipse cx="905" cy="1444" rx="1.6" ry="1.04" fill="#444" stroke="none"/>
<circle cx="905" cy="1458" r="2.3" fill="#333" stroke="#000" stroke-width="1"/>
<circle cx="905" cy="1470" r="2.4" fill="#fff" stroke="#000" stroke-width="1.2"/>
<line x1="905" y1="1433" x2="905" y2="1441" stroke="#000" stroke-width="1.2"/>
<path d="M361.7,747 L369.2,741.7 L394.8,728.3 L400.1,727.8 L404.4,730.5 L436,745.2 L448,746.8 L464,750 L488,760.4 L520,777.2 L540,784.4 L589,813.1 L593.9,820.8 L596,839 L597.4,855.8 L593.2,865.6 L582,874 L526,910.4 L470.7,945.6 L464.4,946.8 L461.3,940 L474,903 L485.6,865.3 L491.2,846.7 L483.7,822.4 L470.7,801.9 L459.5,794.4 L416,768.4 L385.2,757.7 L371.3,764.1 L364.9,765.1 L360.7,759.8Z" stroke="none" stroke-width="0" fill="#fff" stroke-linejoin="round" stroke-linecap="round"/>
<path d="M436,745.2 C438,745.5 443.3,746 448,746.8 C452.7,747.6 457.3,747.7 464,750 C470.7,752.3 478.7,755.9 488,760.4 C497.3,764.9 511.3,773.2 520,777.2 C528.7,781.2 532.5,780.9 540,784.4 C547.5,787.9 556.8,793.2 565,798 C573.2,802.8 585,810.6 589,813.1" stroke="#000" stroke-width="2.6" fill="none" stroke-linejoin="round" stroke-linecap="round"/>
<path d="M589,813.1 C589.8,814.4 592.7,816.5 593.9,820.8 C595.1,825.1 595.4,833.2 596,839 C596.6,844.8 597.9,851.4 597.4,855.8 C596.9,860.2 595.8,862.6 593.2,865.6 C590.6,868.6 583.9,872.6 582,874" stroke="#000" stroke-width="2.6" fill="none" stroke-linejoin="round" stroke-linecap="round"/>
<path d="M582,874 C577.5,876.8 564.3,884.9 555,891 C545.7,897.1 535.5,904.2 526,910.4 C516.5,916.6 507.2,922.1 498,928 C488.8,933.9 475.2,942.7 470.7,945.6" stroke="#000" stroke-width="2.6" fill="none" stroke-linejoin="round" stroke-linecap="round"/>
<path d="M459.2,757.2 C462.7,759 473.5,764.4 480,768 C486.5,771.6 491.5,773.7 498,778.8 C504.5,783.9 513.2,793 519,798.4 C524.8,803.8 529.5,808.2 533,811 C536.5,813.8 535.5,814 540,815.2 C544.5,816.4 553,817.2 560,818 C567,818.8 577.2,819.9 582,820.1 C586.8,820.3 587.8,819.5 589,819.4" stroke="#000" stroke-width="0.9" fill="none" stroke-linejoin="round" stroke-linecap="round"/>
<path d="M369.2,741.7 C371.2,740.4 376.7,736.2 381,734 C385.3,731.8 391.6,729.3 394.8,728.3 C398,727.3 398.5,727.4 400.1,727.8 C401.7,728.2 398.4,727.6 404.4,730.5 C410.4,733.4 426.9,740.8 436,745.2 C445.1,749.7 455.3,755.2 459.2,757.2" stroke="#000" stroke-width="2.6" fill="none" stroke-linejoin="round" stroke-linecap="round"/>
<path d="M369.2,741.7 C374.3,743.1 389.2,745.6 400,750 C410.8,754.4 424,762.5 434,768 C444,773.5 454.2,779.2 460,783 C465.8,786.8 465.2,787.6 468.8,790.7 C472.4,793.9 478.4,798 481.9,801.9 C485.4,805.8 487.5,809.6 490,814 C492.5,818.4 494.7,822.5 496.8,828 C498.9,833.5 501.8,842 502.4,846.7 C503,851.4 503.2,847.1 500.5,856 C497.8,864.9 491,885.1 486,900 C481,914.9 473.2,938 470.7,945.6" stroke="#000" stroke-width="2.6" fill="none" stroke-linejoin="round" stroke-linecap="round"/>
<path d="M385.2,757.7 C387.7,758.2 394.9,758.6 400,760.4 C405.1,762.2 409.8,765.1 416,768.4 C422.2,771.7 429.8,775.7 437,780 C444.2,784.3 453.9,790.8 459.5,794.4 C465.1,798 467.6,799.1 470.7,801.9 C473.8,804.7 475.8,807.6 478,811 C480.2,814.4 481.5,816.4 483.7,822.4 C485.9,828.4 490.9,839.6 491.2,846.7 C491.5,853.9 488.5,855.9 485.6,865.3 C482.7,874.7 478.1,890.5 474,903 C469.9,915.5 463.4,933.8 461.3,940" stroke="#000" stroke-width="2.6" fill="none" stroke-linejoin="round" stroke-linecap="round"/>
<path d="M461.3,940 Q460,947 465,947 L470.7,945.6" stroke="#000" stroke-width="2.4" fill="none" stroke-linejoin="round" stroke-linecap="round"/>
<line x1="457.6" y1="791.6" x2="467.2" y2="786.8" stroke="#000" stroke-width="1.6"/>
<line x1="469.6" y1="798.8" x2="478.4" y2="794" stroke="#000" stroke-width="1"/>
<line x1="470.6" y1="800.8" x2="479.4" y2="796" stroke="#000" stroke-width="1"/>
<path d="M369.2,741.7 L361.7,747 L360.7,759.8 L364.9,765.1 L371.3,764.1 L379.9,759.8 L385.2,757.7" stroke="#000" stroke-width="2.4" fill="none" stroke-linejoin="round" stroke-linecap="round"/>
<path d="M365,750 L372,745 L377,748 L376,758" stroke="#000" stroke-width="1.2" fill="none" stroke-linejoin="round" stroke-linecap="round"/>
<path d="M389,753 L393,748 L400,750 L397,755 L401,758 L398,762 L392,758" stroke="#000" stroke-width="1.8" fill="none" stroke-linejoin="round" stroke-linecap="round"/>
<path d="M409,762 L413,757 L420,759 L417,764 L421,767 L418,771 L412,767" stroke="#000" stroke-width="1.8" fill="none" stroke-linejoin="round" stroke-linecap="round"/>
<rect x="496.5" y="836" width="3" height="12" rx="1.5" fill="none" stroke="#000" stroke-width="1.2" transform="rotate(8 498 842)"/>
<ellipse cx="468.6" cy="939.5" rx="1.5" ry="2.5" fill="none" stroke="#000" stroke-width="1"/>
<circle cx="435.8" cy="776" r="1.6" fill="#000"/>
<circle cx="458.8" cy="787.7" r="1.8" fill="#000"/>
<line x1="384" y1="751" x2="389" y2="770" stroke="#000" stroke-width="1.2" stroke-dasharray="3,2"/>
<line x1="402" y1="759" x2="409" y2="778" stroke="#000" stroke-width="1.2" stroke-dasharray="3,2"/>
<line x1="421" y1="768" x2="429" y2="785" stroke="#000" stroke-width="1.2" stroke-dasharray="3,2"/>
<circle cx="390.5" cy="773.7" r="4.6" fill="#fff" stroke="#000" stroke-width="1.4"/>
<circle cx="389.5" cy="772.7" r="2.07" fill="none" stroke="#000" stroke-width="1"/>
<circle cx="411.3" cy="781.1" r="4.6" fill="#fff" stroke="#000" stroke-width="1.4"/>
<circle cx="410.3" cy="780.1" r="2.07" fill="none" stroke="#000" stroke-width="1"/>
<circle cx="432.1" cy="788.6" r="4.6" fill="#fff" stroke="#000" stroke-width="1.4"/>
<circle cx="431.1" cy="787.6" r="2.07" fill="none" stroke="#000" stroke-width="1"/>
<circle cx="391.6" cy="739.5" r="3.6" fill="#fff" stroke="#000" stroke-width="1.5"/><circle cx="392" cy="739.5" r="1.6" fill="none" stroke="#000" stroke-width="1"/>
<path d="M437.9,720.2 l-4,0 l0,11 q2,2 4,0 l0,-11 z" stroke="#0a90c8" stroke-width="1.3" fill="#fff" stroke-linejoin="round" stroke-linecap="round"/>
<ellipse cx="435.9" cy="718.2" rx="4.3" ry="2.6" fill="#fff" stroke="#0a90c8" stroke-width="1.4"/>
<path d="M460.3,731.9 l-4,0 l0,11 q2,2 4,0 l0,-11 z" stroke="#0a90c8" stroke-width="1.3" fill="#fff" stroke-linejoin="round" stroke-linecap="round"/>
<ellipse cx="458.3" cy="729.9" rx="4.3" ry="2.6" fill="#fff" stroke="#0a90c8" stroke-width="1.4"/>
<line x1="435.9" y1="732" x2="435.9" y2="775" stroke="#000" stroke-width="1.2" stroke-dasharray="8,3,2,3"/>
<line x1="458.3" y1="744" x2="459.5" y2="820.5" stroke="#000" stroke-width="1.2" stroke-dasharray="8,3,2,3"/>
<path d="M459.5,820.5 L427.7,822.4" stroke="#000" stroke-width="1.2" fill="none" stroke-dasharray="8,3,2,3" stroke-linejoin="round" stroke-linecap="round"/>
<path d="M467,757 L452,804 L431,801" stroke="#000" stroke-width="1.2" fill="none" stroke-dasharray="7,4" stroke-linejoin="round" stroke-linecap="round"/>
<path d="M495,846.7 L472.5,837.3 L470.7,902.7" stroke="#000" stroke-width="1.2" fill="none" stroke-dasharray="8,3,2,3" stroke-linejoin="round" stroke-linecap="round"/>
<path d="M373,792 L443,785" stroke="#000" stroke-width="1.2" fill="none" stroke-dasharray="7,4" stroke-linejoin="round" stroke-linecap="round"/>
<path d="M406.3,796.3 L418.4,798.1 L427.7,797.2 L436.1,801.9 L438,806.5 L435.2,808.4 L429.6,805.6 L425.9,807.5 L422.1,803.7 L433.3,824.3 L435,829 L433.3,835.5 L467,889.6 L467.9,900.8 L454.8,906.4 L453.9,891.5 L425.9,839.2 L416.5,835.5 L414.7,831.7 L427.7,831.7Z" stroke="#000" stroke-width="2.2" fill="#fff" stroke-linejoin="round" stroke-linecap="round"/>
<line x1="406.3" y1="796.3" x2="427.7" y2="831.7" stroke="#000" stroke-width="3"/>
<line x1="409.5" y1="797" x2="428" y2="830" stroke="#000" stroke-width="0.9"/>
<line x1="427.7" y1="831.7" x2="433.3" y2="835.5" stroke="#000" stroke-width="1"/>
<line x1="453.9" y1="891.5" x2="467" y2="889.6" stroke="#000" stroke-width="1"/>
<ellipse cx="461" cy="898" rx="1.6" ry="2.3" fill="none" stroke="#000" stroke-width="1"/>
<rect x="419" y="832" width="8" height="3" fill="none" stroke="#000" stroke-width="0.9" transform="rotate(15 423 833)"/>
<line x1="425.2" y1="842" x2="425.2" y2="884" stroke="#000" stroke-width="1.1" stroke-dasharray="3,2"/>
<ellipse cx="425.2" cy="857.9" rx="4" ry="2.8" fill="#fff" stroke="#000" stroke-width="1.3"/>
<ellipse cx="425.2" cy="857.9" rx="1.6" ry="1.1199999999999999" fill="#444" stroke="none"/>
<circle cx="425.5" cy="870.5" r="2.6" fill="#333" stroke="#000" stroke-width="1"/>
<circle cx="425.2" cy="883.1" r="2.6" fill="#fff" stroke="#000" stroke-width="1.2"/>
<ellipse cx="620.7" cy="797.5" rx="16.5" ry="23.6" transform="rotate(-27 620.7 797.5)" fill="none" stroke="#3a0a0a" stroke-width="2.2"/>
<ellipse cx="622.5" cy="797" rx="14.5" ry="21.5" transform="rotate(-27 622.5 797)" fill="none" stroke="#3a0a0a" stroke-width="0.7"/>
<line x1="589.3" y1="815.1" x2="620.1" y2="797.3" stroke="#000" stroke-width="1.1" stroke-dasharray="7,4"/>
<defs>
<pattern id="grid" width="2.2" height="2.2" patternUnits="userSpaceOnUse" patternTransform="rotate(-25)">
<rect width="2.2" height="2.2" fill="#fff"/>
<path d="M0,0 L2.2,0 M0,0 L0,2.2" stroke="#111" stroke-width="0.95"/>
</pattern>
<g id="hl">
<ellipse cx="0" cy="0" rx="17" ry="24" transform="rotate(-25)" fill="#fff" stroke="#000" stroke-width="2.8"/>
<ellipse cx="0.8" cy="0.3" rx="14.8" ry="21.6" transform="rotate(-25)" fill="none" stroke="#000" stroke-width="1.1"/>
<ellipse cx="1.5" cy="0.5" rx="12.8" ry="19.5" transform="rotate(-25)" fill="none" stroke="#000" stroke-width="0.8"/>
<path d="M-6.3,-20 C-12,-21 -18,-16 -21,-10 C-25,-2 -22,12 -13,19.3 C-8,22.5 -2,23 3.7,21.3 C4,16 4,13 3.7,12.7 C2,2 0,-6 -3,-10.7 C-4,-14 -5,-17 -6.3,-20 Z" fill="url(#grid)" stroke="#000" stroke-width="1.6"/>
<path d="M-6,-19 L2,-12 L8,-14 M-3,-11 L6,-4 L13,-7 M3.7,12.7 L9,10 L13,14" fill="none" stroke="#000" stroke-width="1"/>
<ellipse cx="-15.5" cy="8.5" rx="5" ry="7" transform="rotate(-25 -15.5 8.5)" fill="#fff" stroke="#000" stroke-width="1.1"/>
<circle cx="-21" cy="9.3" r="5.8" fill="url(#grid)" stroke="#000" stroke-width="1.8"/>
<circle cx="-21" cy="9.3" r="2" fill="#fff" stroke="#000" stroke-width="0.8"/>
<path d="M-22,15 l1,3 l4,-1" fill="none" stroke="#000" stroke-width="1.2"/>
<path d="M1,20 l3,6 l6,-1 l0,-6" fill="#fff" stroke="#000" stroke-width="1.5"/>
<circle cx="6" cy="25.5" r="2.8" fill="#111"/>
</g>
</defs>
<path d="M564.8,628 C566.3,626.2 570.5,623.2 575,621 C579.5,618.8 586.1,616.9 592,615 C597.9,613.1 606.5,610.5 610.4,609.6 C614.3,608.7 612.6,609.2 615.2,609.6 C617.8,610 622.5,610.8 626,612 C629.5,613.2 632.7,615.1 636,616.8 C639.3,618.5 642.3,620.1 646,622 C649.7,623.9 652.1,624.7 658.4,628 C664.7,631.3 675.7,637.2 684,642 C692.3,646.8 702.1,652.2 708,656.8 C713.9,661.4 715.7,664.8 719.2,669.6 C722.7,674.4 725.6,680 728.8,685.6 C732,691.2 735.2,699.1 738.4,703.2 C741.6,707.3 744.5,707.6 748,710 C751.5,712.4 757,715.5 759.2,717.6 C761.4,719.7 762.5,721.5 761,722.4 C759.5,723.3 754.7,723.2 750,723 C745.3,722.8 738.7,721.6 733,721 C727.3,720.4 722,720.6 716,719.2 C710,717.8 702.9,716.8 696.8,712.8 C690.7,708.8 685.1,700.8 679.2,695.2 C673.3,689.6 667.3,683.4 661.6,679.2 C655.9,675 650.3,673.2 645,670 C639.7,666.8 635.9,663.8 629.6,660 C623.3,656.2 614.1,650.7 607.2,647.2 C600.3,643.7 593.9,641.3 588,639.2 C582.1,637.1 575.7,635.6 572,634.4 C568.3,633.2 567.2,633.1 566,632 C564.8,630.9 563.3,629.8 564.8,628Z" stroke="#000" stroke-width="2.5" fill="#fff" stroke-linejoin="round" stroke-linecap="round"/>
<path d="M566,630 C567,631 569.7,634.2 572,636 C574.3,637.8 576.5,639.8 580,641 C583.5,642.2 589.5,642.5 592.8,643.2 C596.1,643.9 598.8,644.7 600,645" stroke="#000" stroke-width="1.6" fill="none" stroke-linejoin="round" stroke-linecap="round"/>
<path d="M570,629 C571.7,629.5 576.3,630.8 580,632 C583.7,633.2 590,635.3 592,636" stroke="#000" stroke-width="1.0" fill="none" stroke-linejoin="round" stroke-linecap="round"/>
<path d="M626,612.4 C627.7,612.5 632.7,611.7 636,613 C639.3,614.3 644.3,618.8 646,620" stroke="#000" stroke-width="1.8" fill="none" stroke-linejoin="round" stroke-linecap="round"/>
<path d="M738.4,703.2 L752,712 L752,718 L742,716 L738.4,703.2" stroke="#000" stroke-width="1.0" fill="none" stroke-linejoin="round" stroke-linecap="round"/>
<ellipse cx="616.8" cy="655.2" rx="2.8" ry="2.2" fill="#333" stroke="#000" stroke-width="1.2"/>
<ellipse cx="639.2" cy="664.8" rx="2.8" ry="2.2" fill="#333" stroke="#000" stroke-width="1.2"/>
<ellipse cx="650.4" cy="671.2" rx="2.8" ry="2.2" fill="#333" stroke="#000" stroke-width="1.2"/>
<ellipse cx="669.6" cy="687.2" rx="2.8" ry="2.2" fill="#333" stroke="#000" stroke-width="1.2"/>
<line x1="589.6" y1="653.2" x2="608.8" y2="642.4" stroke="#000" stroke-width="1.1" stroke-dasharray="7,4"/>
<line x1="592" y1="692.8" x2="654.4" y2="664" stroke="#000" stroke-width="1.1" stroke-dasharray="7,4"/>
<line x1="575.2" y1="716.8" x2="649.6" y2="673.6" stroke="#000" stroke-width="1.1" stroke-dasharray="7,4"/>
<line x1="395" y1="735" x2="565.3" y2="635.3" stroke="#000" stroke-width="1.1" stroke-dasharray="7,4"/>
<use href="#hl" transform="translate(580.5,670.5) scale(0.95)"/>
<use href="#hl" transform="translate(560,732) scale(0.95)"/>
<circle cx="545.3" cy="668.7" r="2.6" fill="#333" stroke="#000" stroke-width="1"/>
<circle cx="542.7" cy="686" r="2.6" fill="#333" stroke="#000" stroke-width="1"/>
<circle cx="575.3" cy="702.7" r="2.6" fill="#333" stroke="#000" stroke-width="1"/>
<circle cx="530" cy="727.3" r="2.6" fill="#333" stroke="#000" stroke-width="1"/>
<circle cx="522.7" cy="747.3" r="2.6" fill="#333" stroke="#000" stroke-width="1"/>
<circle cx="548" cy="768.7" r="2.6" fill="#333" stroke="#000" stroke-width="1"/>
<line x1="545.3" y1="686" x2="553" y2="681" stroke="#000" stroke-width="1"/>
<path d="M554.4,599.5 L563.4,595.5 L564.9,607.5 L555.9,611.5Z" stroke="#000" stroke-width="1.4" fill="#333" stroke-linejoin="round" stroke-linecap="round"/>
<path d="M556.9,601 L561.4,599 L562.4,606 L557.9,608Z" stroke="#000" stroke-width="0.6" fill="#ddd" stroke-linejoin="round" stroke-linecap="round"/>
<path d="M565,597.5 L574,593.5 L575.5,605.5 L566.5,609.5Z" stroke="#000" stroke-width="1.4" fill="#333" stroke-linejoin="round" stroke-linecap="round"/>
<path d="M567.5,599 L572,597 L573,604 L568.5,606Z" stroke="#000" stroke-width="0.6" fill="#ddd" stroke-linejoin="round" stroke-linecap="round"/>
<line x1="563" y1="612" x2="589.6" y2="614.8" stroke="#000" stroke-width="1.1" stroke-dasharray="7,4"/>
<line x1="575.2" y1="604" x2="589.6" y2="611" stroke="#000" stroke-width="1.1" stroke-dasharray="7,4"/>
<path d="M759.5,648 L764,646.4 L773,661 L773.6,671 L770,672.8 L761,660 Z" stroke="#000" stroke-width="1.8" fill="#fff" stroke-linejoin="round" stroke-linecap="round"/>
<path d="M762,652 L766,651 L771,661 L771,668 L767,668 L762,659 Z" stroke="#000" stroke-width="0.9" fill="none" stroke-linejoin="round" stroke-linecap="round"/>
<path d="M764,656 L769,662 M763,663 L768,669" stroke="#000" stroke-width="0.9" fill="none" stroke-linejoin="round" stroke-linecap="round"/>
<line x1="728.8" y1="680.8" x2="758" y2="665" stroke="#000" stroke-width="1.1" stroke-dasharray="7,4"/>
<path d="M1028.5,925.4 L1049.4,907.8 L1060,909 L1071.4,911.1 L1108.8,932 L1135.2,956.2 L1134.1,962.8 L1115.4,976 L1117.6,1046.4 L1109.9,1048.6 L1034,999.1 L1029,990 L1028.5,987Z" stroke="#2a0c0c" stroke-width="2.0" fill="#fff" stroke-linejoin="round" stroke-linecap="round"/>
<path d="M1028.5,927.6 L1115.4,976" stroke="#2a0c0c" stroke-width="1.4" fill="none" stroke-linejoin="round" stroke-linecap="round"/>
<path d="M1049.4,907.8 L1046,915" stroke="#2a0c0c" stroke-width="1.2" fill="none" stroke-linejoin="round" stroke-linecap="round"/>
<circle cx="1069" cy="934.5" r="2.6" fill="#fff" stroke="#2a0c0c" stroke-width="1.3"/>
<circle cx="1082" cy="942.5" r="2.6" fill="#fff" stroke="#2a0c0c" stroke-width="1.3"/>
<circle cx="1084.5" cy="925.5" r="1.3" fill="#2a0c0c"/>
<circle cx="1097.5" cy="933" r="1.3" fill="#2a0c0c"/>
<path d="M1091,930 q-2,-6 1,-8 q3,1 2,9" stroke="#2a0c0c" stroke-width="1.3" fill="none" stroke-linejoin="round" stroke-linecap="round"/>
<circle cx="1033" cy="974" r="1.5" fill="#2a0c0c"/>
<circle cx="1033" cy="989.5" r="1.5" fill="#2a0c0c"/>
<circle cx="1112.5" cy="1020" r="1.5" fill="#2a0c0c"/>
<circle cx="1112.5" cy="1035.5" r="1.5" fill="#2a0c0c"/>
<path d="M1004.3,1001.3 L1086.8,1048.6 L1089,1057 L1062,1056.5 L1030,1049.5 L1015,1057 L999,1047.5 L1004,1042 L1017,1016 L1004.3,1009Z" stroke="#2a0c0c" stroke-width="2.0" fill="#fff" stroke-linejoin="round" stroke-linecap="round"/>
<path d="M1004.3,1009 L1086.8,1055" stroke="#2a0c0c" stroke-width="1.2" fill="none" stroke-linejoin="round" stroke-linecap="round"/>
<path d="M1031.8,1017.8 L1009.8,1050.8" stroke="#2a0c0c" stroke-width="2.2" fill="none" stroke-linejoin="round" stroke-linecap="round"/>
<path d="M1031.8,1017.8 L1027,1040 L1040,1052" stroke="#2a0c0c" stroke-width="1.2" fill="none" stroke-linejoin="round" stroke-linecap="round"/>
<circle cx="1004.3" cy="1005.7" r="4.5" fill="#5a3a3a" stroke="#2a0c0c" stroke-width="1.6"/>
<circle cx="1085.7" cy="1053" r="4.5" fill="#5a3a3a" stroke="#2a0c0c" stroke-width="1.6"/>
<circle cx="1005" cy="1047" r="1.6" fill="#2a0c0c"/>
<circle cx="1016.5" cy="1053" r="1.8" fill="#2a0c0c"/>
<path d="M1106,903 L1116,901 L1136,912 L1136,924 L1130,926.5 L1104,914 Z" stroke="#2a0c0c" stroke-width="1.8" fill="#fff" stroke-linejoin="round" stroke-linecap="round"/>
<path d="M1108,905 L1130,916 L1130,925" stroke="#2a0c0c" stroke-width="1.1" fill="none" stroke-linejoin="round" stroke-linecap="round"/>
<circle cx="1108" cy="912" r="1.2" fill="#2a0c0c"/><circle cx="1121" cy="919" r="1.2" fill="#2a0c0c"/>
<circle cx="1016.4" cy="889.8" r="3.8" fill="#3a1a1a" stroke="#2a0c0c" stroke-width="1.2"/>
<path d="M1014.5,893 l0,4 l3.8,0 l0,-4" stroke="#2a0c0c" stroke-width="1.1" fill="none" stroke-linejoin="round" stroke-linecap="round"/>
<line x1="1016.4" y1="897" x2="1016.4" y2="1115" stroke="#2a0c0c" stroke-width="1.2" stroke-dasharray="8,3,2,3"/>
<line x1="1004.5" y1="1053" x2="1004.5" y2="1085" stroke="#2a0c0c" stroke-width="1.2" stroke-dasharray="8,3,2,3"/>
<path d="M1017,1115.5 L1067.5,1090" stroke="#2a0c0c" stroke-width="1.2" fill="none" stroke-dasharray="8,3,2,3" stroke-linejoin="round" stroke-linecap="round"/>
<line x1="1067.5" y1="1092" x2="1068" y2="1122" stroke="#2a0c0c" stroke-width="1.1" stroke-dasharray="3,2"/>
<ellipse cx="1067" cy="1100" rx="3.2" ry="2.4" fill="#fff" stroke="#333" stroke-width="1.3"/>
<circle cx="1068" cy="1123" r="3" fill="#fff" stroke="#333" stroke-width="1.3"/><circle cx="1068" cy="1123" r="1.3" fill="#444"/>
<path d="M1168,886 L1176,884 L1179,895 L1171,898 Z" stroke="#222" stroke-width="1.3" fill="#888" stroke-linejoin="round" stroke-linecap="round"/>
<path d="M1175,896 l3,5" stroke="#222" stroke-width="1.1" fill="none" stroke-linejoin="round" stroke-linecap="round"/>
<circle cx="1203.4" cy="885.8" r="3" fill="#fff" stroke="#222" stroke-width="1.3"/>
<path d="M1201.4,886.8 l-5,3" stroke="#222" stroke-width="2" fill="none" stroke-linejoin="round" stroke-linecap="round"/>
<circle cx="1260.6" cy="947.4" r="3" fill="#fff" stroke="#222" stroke-width="1.3"/>
<path d="M1258.6,948.4 l-5,3" stroke="#222" stroke-width="2" fill="none" stroke-linejoin="round" stroke-linecap="round"/>
<line x1="1196.8" y1="891.3" x2="1119.8" y2="937.5" stroke="#222" stroke-width="1.1" stroke-dasharray="8,3,2,3"/>
<line x1="1254" y1="951.8" x2="1089" y2="1048.6" stroke="#222" stroke-width="1.1" stroke-dasharray="8,3,2,3"/>
<line x1="1004.3" y1="1001.3" x2="1028.5" y2="990" stroke="#2a0c0c" stroke-width="1.1" stroke-dasharray="7,4"/>
<line x1="1109" y1="925" x2="1100" y2="929" stroke="#2a0c0c" stroke-width="1.1" stroke-dasharray="7,4"/>
<path d="M1219,1062 C1219.7,1060 1221.2,1057.2 1226,1054 C1230.8,1050.8 1240.7,1046.3 1248,1043 C1255.3,1039.7 1265,1035.6 1270,1034.4 C1275,1033.2 1271.3,1032.6 1278,1036 C1284.7,1039.4 1298,1047.7 1310,1055 C1322,1062.3 1340.7,1074.8 1350,1080 C1359.3,1085.2 1361.7,1082.7 1366,1086 C1370.3,1089.3 1373,1093.3 1376,1100 C1379,1106.7 1380,1119.7 1384,1126 C1388,1132.3 1397.2,1135 1400,1138 C1402.8,1141 1402.7,1142.7 1401,1144 C1399.3,1145.3 1396.8,1146 1390,1146 C1383.2,1146 1366.7,1145.3 1360,1144 C1353.3,1142.7 1353,1140.7 1350,1138 C1347,1135.3 1346.3,1132.7 1342,1128 C1337.7,1123.3 1332.7,1116.7 1324,1110 C1315.3,1103.3 1303,1095.3 1290,1088 C1277,1080.7 1257.3,1069.7 1246,1066 C1234.7,1062.3 1226.5,1066.7 1222,1066 C1217.5,1065.3 1218.3,1064 1219,1062Z" stroke="#000" stroke-width="2.5" fill="#fff" stroke-linejoin="round" stroke-linecap="round"/>
<path d="M1226,1056 C1229.3,1057.7 1240,1063.3 1246,1066 C1252,1068.7 1259.3,1071 1262,1072" stroke="#000" stroke-width="1.1" fill="none" stroke-linejoin="round" stroke-linecap="round"/>
<path d="M1350,1080 C1352.2,1081 1359.3,1083 1363,1086 C1366.7,1089 1370.5,1096 1372,1098" stroke="#000" stroke-width="1.4" fill="none" stroke-linejoin="round" stroke-linecap="round"/>
<path d="M1350,1118 L1370,1110 L1374,1125 L1356,1133 Z" stroke="#000" stroke-width="1.4" fill="#fff" stroke-linejoin="round" stroke-linecap="round"/>
<path d="M1354,1121 L1367,1115 L1369,1124 L1357,1129 Z" stroke="#000" stroke-width="0.8" fill="#555" stroke-linejoin="round" stroke-linecap="round"/>
<path d="M1384,1126 L1395,1138" stroke="#000" stroke-width="1" fill="none" stroke-linejoin="round" stroke-linecap="round"/>
<ellipse cx="1230" cy="1061" rx="2.2" ry="1.5" fill="#fff" stroke="#000" stroke-width="1"/>
<ellipse cx="1281.7" cy="1090" rx="2.8" ry="2.4" fill="#333" stroke="#000" stroke-width="1.2"/>
<ellipse cx="1336.7" cy="1126.7" rx="2.8" ry="2.4" fill="#333" stroke="#000" stroke-width="1.2"/>
<use href="#hl" transform="translate(1260,1117.3) scale(0.97)"/>
<use href="#hl" transform="translate(1236,1182) scale(0.97)"/>
<circle cx="1225.6" cy="1114" r="2.5" fill="#333" stroke="#000" stroke-width="1"/>
<circle cx="1222.6" cy="1131" r="2.5" fill="#333" stroke="#000" stroke-width="1"/>
<circle cx="1246.6" cy="1154.6" r="2.5" fill="#333" stroke="#000" stroke-width="1"/>
<circle cx="1204.6" cy="1179" r="2.5" fill="#333" stroke="#000" stroke-width="1"/>
<circle cx="1203.6" cy="1195" r="2.5" fill="#333" stroke="#000" stroke-width="1"/>
<circle cx="1224" cy="1220" r="2.5" fill="#333" stroke="#000" stroke-width="1"/>
<circle cx="1227" cy="1065" r="2.5" fill="#333" stroke="#000" stroke-width="1"/>
<line x1="1274" y1="1096" x2="1291" y2="1087" stroke="#000" stroke-width="1.1" stroke-dasharray="7,4"/>
<line x1="1250" y1="1162" x2="1330" y2="1118" stroke="#000" stroke-width="1.1" stroke-dasharray="7,4"/>
<line x1="1256" y1="1170" x2="1337" y2="1127" stroke="#000" stroke-width="1.1" stroke-dasharray="7,4"/>
<line x1="1225" y1="1212" x2="1246" y2="1200" stroke="#000" stroke-width="1.1" stroke-dasharray="7,4"/>
<path d="M1400,1153.5 L1409,1149.5 L1409,1161.5 L1400,1165.5Z" stroke="#000" stroke-width="1.6" fill="#fff" stroke-linejoin="round" stroke-linecap="round"/>
<path d="M1402,1154.5 L1407,1152.5 L1407,1160.5 L1402,1162.5Z" stroke="#000" stroke-width="0.7" fill="#eee" stroke-linejoin="round" stroke-linecap="round"/>
<path d="M1409.5,1150 L1418.5,1146 L1418.5,1158 L1409.5,1162Z" stroke="#000" stroke-width="1.6" fill="#fff" stroke-linejoin="round" stroke-linecap="round"/>
<path d="M1411.5,1151 L1416.5,1149 L1416.5,1157 L1411.5,1159Z" stroke="#000" stroke-width="0.7" fill="#eee" stroke-linejoin="round" stroke-linecap="round"/>
<line x1="1372" y1="1120" x2="1400" y2="1152" stroke="#000" stroke-width="1" stroke-dasharray="7,4"/>
<line x1="1392" y1="1140" x2="1412" y2="1150" stroke="#000" stroke-width="1" stroke-dasharray="7,4"/>
<path d="M1017.5,1185.1 L1030,1190 L1045,1199.1 L1071,1203.7 L1089.4,1211.4 L1107.8,1219.1 L1132.3,1234.4 L1163,1252.8 L1184.5,1266.6 L1190.6,1274.3 L1192.9,1286.5 L1187.5,1288.1 L1163,1286.5 L1132.3,1289.6 L1110.9,1294.2 L1104.7,1296.5 L1101.7,1292.7 L1100.1,1286.5 L1103,1280 L1107.8,1274.3 L1092.5,1260.5 L1075.6,1249.7 L1055.7,1237.5 L1025,1212.9 L1000,1203 L990.3,1202.1 L975,1215 L970,1230 L946.1,1325.7 L938.1,1324.5 L967.6,1227.1 L972.1,1215.7 L988,1199.9 L1000,1190Z" stroke="none" stroke-width="0" fill="#fff" stroke-linejoin="round" stroke-linecap="round"/>
<path d="M967.6,1227.1 L938.1,1324.5 L946.1,1325.7 L1060.5,1248.6 L1025,1212.9 L990.3,1202.1 L972,1215Z" stroke="none" stroke-width="0" fill="#fff" stroke-linejoin="round" stroke-linecap="round"/>
<path d="M1017.5,1185.1 C1019.6,1185.9 1025.4,1187.7 1030,1190 C1034.6,1192.3 1038.2,1196.8 1045,1199.1 C1051.8,1201.4 1063.6,1201.7 1071,1203.7 C1078.4,1205.8 1083.3,1208.8 1089.4,1211.4 C1095.5,1214 1100.7,1215.3 1107.8,1219.1 C1114.9,1222.9 1123.1,1228.8 1132.3,1234.4 C1141.5,1240 1154.3,1247.4 1163,1252.8 C1171.7,1258.2 1179.9,1263 1184.5,1266.6 C1189.1,1270.2 1189.2,1271 1190.6,1274.3 C1192,1277.6 1192.5,1284.5 1192.9,1286.5" stroke="#000" stroke-width="2.5" fill="none" stroke-linejoin="round" stroke-linecap="round"/>
<path d="M1192.9,1286.5 C1192,1286.8 1192.5,1288.1 1187.5,1288.1 C1182.5,1288.1 1172.2,1286.2 1163,1286.5 C1153.8,1286.8 1141,1288.3 1132.3,1289.6 C1123.6,1290.9 1115.5,1293 1110.9,1294.2 C1106.3,1295.4 1106.2,1296.8 1104.7,1296.5 C1103.2,1296.2 1102.5,1294.4 1101.7,1292.7 C1100.9,1291 1099.9,1288.6 1100.1,1286.5 C1100.3,1284.4 1101.7,1282 1103,1280 C1104.3,1278 1107,1275.2 1107.8,1274.3" stroke="#000" stroke-width="2.5" fill="none" stroke-linejoin="round" stroke-linecap="round"/>
<path d="M1107.8,1274.3 C1105.2,1272 1097.9,1264.6 1092.5,1260.5 C1087.1,1256.4 1081.7,1253.5 1075.6,1249.7 C1069.5,1245.9 1064.1,1243.6 1055.7,1237.5 C1047.3,1231.4 1034.3,1218.7 1025,1212.9 C1015.7,1207.2 1004.2,1204.7 1000,1203" stroke="#000" stroke-width="2.3" fill="none" stroke-linejoin="round" stroke-linecap="round"/>
<path d="M1017.5,1185.1 C1014.6,1185.9 1004.9,1187.5 1000,1190 C995.1,1192.5 992.6,1195.6 988,1199.9 C983.4,1204.2 975.5,1211.2 972.1,1215.7 C968.7,1220.2 968.4,1225.2 967.6,1227.1" stroke="#000" stroke-width="2.5" fill="none" stroke-linejoin="round" stroke-linecap="round"/>
<path d="M967.6,1227.1 L938.1,1324.5 L946.1,1325.7" stroke="#000" stroke-width="2.5" fill="none" stroke-linejoin="round" stroke-linecap="round"/>
<path d="M946.1,1325.7 L1060.5,1248.6" stroke="#000" stroke-width="2.3" fill="none" stroke-linejoin="round" stroke-linecap="round"/>
<path d="M974.4,1224.8 L947.2,1317.7" stroke="#000" stroke-width="1.1" fill="none" stroke-linejoin="round" stroke-linecap="round"/>
<path d="M990.3,1202.1 L1020,1215" stroke="#000" stroke-width="1.1" fill="none" stroke-linejoin="round" stroke-linecap="round"/>
<path d="M1055.7,1205.3 C1061.4,1208.6 1078.5,1217.3 1090,1225 C1101.5,1232.7 1116.1,1244.1 1124.7,1251.3 C1133.3,1258.5 1135.6,1264.6 1141.5,1268.1 C1147.4,1271.5 1152.8,1271 1160,1272 C1167.2,1273 1180.4,1273.9 1184.5,1274.3" stroke="#000" stroke-width="0.9" fill="none" stroke-linejoin="round" stroke-linecap="round"/>
<ellipse cx="942" cy="1318" rx="1.5" ry="2.5" fill="none" stroke="#000" stroke-width="1"/>
<path d="M968,1222 l4,-1 l1,12 l-4,1 z" stroke="#000" stroke-width="1.1" fill="none" stroke-linejoin="round" stroke-linecap="round"/>
<path d="M1045,1234 L1052,1231 L1057,1235 L1052,1237 L1054,1241 L1048,1243 L1046,1239Z" stroke="#000" stroke-width="1.8" fill="#fff" stroke-linejoin="round" stroke-linecap="round"/>
<path d="M1066,1249 L1073,1246 L1078,1250 L1073,1252 L1075,1256 L1069,1258 L1067,1254Z" stroke="#000" stroke-width="1.8" fill="#fff" stroke-linejoin="round" stroke-linecap="round"/>
<path d="M1088,1265 L1095,1262 L1100,1266 L1095,1268 L1097,1272 L1091,1274 L1089,1270Z" stroke="#000" stroke-width="1.8" fill="#fff" stroke-linejoin="round" stroke-linecap="round"/>
<circle cx="1073.3" cy="1266.6" r="4.3" fill="#fff" stroke="#000" stroke-width="1.4"/>
<circle cx="1072.3" cy="1265.6" r="1.935" fill="none" stroke="#000" stroke-width="1"/>
<circle cx="1092.5" cy="1280.4" r="4.3" fill="#fff" stroke="#000" stroke-width="1.4"/>
<circle cx="1091.5" cy="1279.4" r="1.935" fill="none" stroke="#000" stroke-width="1"/>
<circle cx="1118.5" cy="1301.9" r="4.3" fill="#fff" stroke="#000" stroke-width="1.4"/>
<circle cx="1117.5" cy="1300.9" r="1.935" fill="none" stroke="#000" stroke-width="1"/>
<path d="M1050,1243 C1051.7,1244.2 1056.7,1247.5 1060,1250 C1063.3,1252.5 1068.3,1256.7 1070,1258" stroke="#000" stroke-width="1.5" fill="none" stroke-linejoin="round" stroke-linecap="round"/>
<path d="M1075,1258 C1076.7,1259.3 1082.2,1263.5 1085,1266 C1087.8,1268.5 1090.8,1271.8 1092,1273" stroke="#000" stroke-width="1.5" fill="none" stroke-linejoin="round" stroke-linecap="round"/>
<circle cx="1110.9" cy="1263.5" r="3.6" fill="#fff" stroke="#000" stroke-width="1.5"/><circle cx="1111.3" cy="1263.5" r="1.6" fill="none" stroke="#000" stroke-width="1"/>
<ellipse cx="1150.3" cy="1191.8" rx="16.3" ry="23.2" transform="rotate(-27 1150.3 1191.8)" fill="none" stroke="#3a0a0a" stroke-width="2.2"/>
<ellipse cx="1152" cy="1191.3" rx="14.3" ry="21" transform="rotate(-27 1152 1191.3)" fill="none" stroke="#3a0a0a" stroke-width="0.7"/>
<line x1="1150.7" y1="1192.2" x2="1100.1" y2="1221.4" stroke="#000" stroke-width="1.1" stroke-dasharray="7,4"/>
<line x1="1117" y1="1260.5" x2="1190.6" y2="1216" stroke="#000" stroke-width="1.1" stroke-dasharray="7,4"/>
<path d="M1159.2,1265 L1160,1295.7 L1169,1298.8 L1168.4,1317.2" stroke="#000" stroke-width="1.1" fill="none" stroke-dasharray="7,4" stroke-linejoin="round" stroke-linecap="round"/>
<path d="M990.3,1265.6 L1174.5,1323.3 L1175,1332 L1169.1,1338.1 L990.3,1272Z" stroke="#000" stroke-width="1" fill="#fff" stroke-linejoin="round" stroke-linecap="round"/>
<line x1="990.3" y1="1265.6" x2="1174.5" y2="1323.3" stroke="#000" stroke-width="2.4"/>
<line x1="990" y1="1269.5" x2="1172.2" y2="1328" stroke="#000" stroke-width="1.0"/>
<line x1="992" y1="1271.5" x2="1172" y2="1331" stroke="#000" stroke-width="1.0"/>
<line x1="990.3" y1="1273" x2="1169.1" y2="1338.1" stroke="#000" stroke-width="2.4"/>
<path d="M1174.5,1323.3 L1175,1332 L1169.1,1338.1" stroke="#000" stroke-width="2.2" fill="none" stroke-linejoin="round" stroke-linecap="round"/>
<path d="M1158,1316 L1161,1311 L1172,1314 L1173,1322" stroke="#000" stroke-width="1.6" fill="none" stroke-linejoin="round" stroke-linecap="round"/>
<path d="M990.3,1265.6 L983.5,1262 L969.9,1281.5 L972,1291.7 L983.5,1286 L990.3,1273" stroke="#000" stroke-width="1.8" fill="#fff" stroke-linejoin="round" stroke-linecap="round"/>
<ellipse cx="976.5" cy="1283" rx="2" ry="2.5" fill="none" stroke="#000" stroke-width="1"/>
<path d="M983.5,1262 L993,1259 L999,1265 L990.3,1268" stroke="#000" stroke-width="1.5" fill="#fff" stroke-linejoin="round" stroke-linecap="round"/>
<line x1="1007" y1="1117" x2="1007" y2="1340" stroke="#000" stroke-width="1.1" stroke-dasharray="8,3,2,3"/>
<line x1="1030" y1="1101" x2="1030" y2="1233" stroke="#000" stroke-width="1.1" stroke-dasharray="8,3,2,3"/>
<ellipse cx="1007.3" cy="1316.6" rx="4" ry="2.6" fill="#fff" stroke="#000" stroke-width="1.3"/>
<ellipse cx="1007.3" cy="1316.6" rx="1.6" ry="1.04" fill="#444" stroke="none"/>
<circle cx="1007.3" cy="1330.2" r="2.4" fill="#333" stroke="#000" stroke-width="1"/>
<circle cx="1007.3" cy="1342.7" r="2.4" fill="#fff" stroke="#000" stroke-width="1.2"/>
<path d="M905,1306 L1007.3,1240.7" stroke="#000" stroke-width="1.1" fill="none" stroke-dasharray="7,4" stroke-linejoin="round" stroke-linecap="round"/>
<text transform="translate(548.8,555) scale(0.925,1)" font-size="33">20</text>
<text transform="translate(640,568.8) scale(0.925,1)" font-size="33">25</text>
<text transform="translate(829.3,673.5) scale(0.925,1)" font-size="33">14</text>
<text transform="translate(484.8,642.7) scale(0.925,1)" font-size="33">23</text>
<text transform="translate(454.1,669.3) scale(0.925,1)" font-size="33">32</text>
<text transform="translate(624.5,730.7) scale(0.925,1)" font-size="33">24</text>
<text transform="translate(599.8,768.4) scale(0.925,1)" font-size="33">32</text>
<text transform="translate(650.2,819) scale(0.925,1)" font-size="33">33</text>
<text transform="translate(335.2,692.2) scale(0.94,1)" font-size="30">1</text>
<text transform="translate(383.6,684.2) scale(0.94,1)" font-size="30">3</text>
<text transform="translate(372.1,896.5) scale(0.94,1)" font-size="30">36</text>
<text transform="translate(393.6,937.5) scale(0.94,1)" font-size="30">35</text>
<text transform="translate(309.6,942.2) scale(0.94,1)" font-size="30">4</text>
<text transform="translate(111.3,1244.2) scale(0.94,1)" font-size="30">34</text>
<text transform="translate(1153.8,826.5) scale(0.925,1)" font-size="33">27</text>
<text transform="translate(1041.5,867) scale(0.925,1)" font-size="33">29</text>
<text transform="translate(1276.8,896) scale(0.925,1)" font-size="33">28</text>
<text transform="translate(1204.4,924.5) scale(0.925,1)" font-size="33">13</text>
<text transform="translate(1184,1020) scale(0.925,1)" font-size="33">11</text>
<text transform="translate(1161.8,1063.6) scale(0.925,1)" font-size="33">10</text>
<text transform="translate(1268.2,978.5) scale(0.925,1)" font-size="33">26</text>
<text transform="translate(1079.8,1090.5) scale(0.925,1)" font-size="33">30</text>
<text transform="translate(1082.8,1121) scale(0.925,1)" font-size="33">31</text>
<text transform="translate(1164.8,1105) scale(0.925,1)" font-size="33">24</text>
<text transform="translate(1156.4,1140.6) scale(0.925,1)" font-size="33">32</text>
<text transform="translate(1312.4,1196.1) scale(0.925,1)" font-size="33">23</text>
<text transform="translate(1283.1,1231.7) scale(0.925,1)" font-size="33">32</text>
<text transform="translate(1396.1,1240.9) scale(0.925,1)" font-size="33">20</text>
<text transform="translate(1100.6,1197.6) scale(0.94,1)" font-size="30">3</text>
<text transform="translate(1214,1270.4) scale(0.94,1)" font-size="30">33</text>
<text transform="translate(1198.4,1352.7) scale(0.94,1)" font-size="30">2</text>
<text transform="translate(1031.6,1322) scale(0.94,1)" font-size="30">5</text>
<text transform="translate(1031.4,1348.5) scale(0.94,1)" font-size="30">6</text>
<text transform="translate(1033.4,1379) scale(0.94,1)" font-size="30">7</text>
<text transform="translate(1058.7,1353.8) scale(0.94,1)" font-size="30">39</text>
<text transform="translate(1126.4,1410.9) scale(0.94,1)" font-size="30">38</text>
<text transform="translate(962.6,1459.9) scale(0.94,1)" font-size="30">5</text>
<text transform="translate(962.6,1491.6) scale(0.94,1)" font-size="30">6</text>
<text transform="translate(962.6,1522.8) scale(0.94,1)" font-size="30">7</text>
<text transform="translate(847.6,1549.5) scale(0.94,1)" font-size="30">4</text>
<text transform="translate(632.6,1771.2) scale(0.94,1)" font-size="30">37</text>
<text x="1192.6" y="1570" font-size="22" textLength="91.2" lengthAdjust="spacingAndGlyphs">T743-K-713</text>
<ellipse cx="713" cy="1170.6" rx="97" ry="23.5" fill="#fff" stroke="#000" stroke-width="3"/>
<text x="634.3" y="1183.3" font-size="36" textLength="161.5" lengthAdjust="spacingAndGlyphs">FIG. 710-01</text>
<line x1="132" y1="1171" x2="132" y2="1222" stroke="#222" stroke-width="1.4"/>
<line x1="323" y1="895" x2="323" y2="918" stroke="#222" stroke-width="1.4"/>
<line x1="392.7" y1="775" x2="392.7" y2="873.5" stroke="#222" stroke-width="1.4"/>
<line x1="392.7" y1="687" x2="392.3" y2="734" stroke="#222" stroke-width="1.4"/>
<line x1="350" y1="694" x2="373.5" y2="738.5" stroke="#222" stroke-width="1.4"/>
<line x1="426" y1="915" x2="453" y2="893" stroke="#222" stroke-width="1.4"/>
<line x1="524.3" y1="638.9" x2="561" y2="650" stroke="#222" stroke-width="1.4"/>
<line x1="493" y1="662" x2="545.3" y2="668.7" stroke="#222" stroke-width="1.4"/>
<line x1="624.5" y1="721.8" x2="578.5" y2="733" stroke="#222" stroke-width="1.4"/>
<line x1="599.5" y1="759" x2="548" y2="768.7" stroke="#222" stroke-width="1.4"/>
<line x1="548" y1="768.7" x2="566.7" y2="759.3" stroke="#222" stroke-width="1.4"/>
<line x1="650" y1="808" x2="640" y2="808" stroke="#222" stroke-width="1.4"/>
<line x1="658.4" y1="573" x2="658.4" y2="626" stroke="#222" stroke-width="1.4"/>
<line x1="768" y1="663" x2="828" y2="663" stroke="#222" stroke-width="1.4"/>
<line x1="564" y1="558" x2="556.5" y2="598" stroke="#222" stroke-width="1.4"/>
<line x1="564" y1="558" x2="569" y2="597" stroke="#222" stroke-width="1.4"/>
<line x1="1172.2" y1="830.8" x2="1172.2" y2="889.1" stroke="#222" stroke-width="1.4"/>
<line x1="1041.7" y1="868.2" x2="1019.7" y2="888" stroke="#222" stroke-width="1.4"/>
<line x1="1206.7" y1="884.7" x2="1274.9" y2="884.7" stroke="#222" stroke-width="1.4"/>
<line x1="1274.9" y1="884.7" x2="1263.9" y2="945.2" stroke="#222" stroke-width="1.4"/>
<line x1="1136.3" y1="913.3" x2="1203.4" y2="913.3" stroke="#222" stroke-width="1.4"/>
<line x1="1116.5" y1="1008.6" x2="1182.5" y2="1008.6" stroke="#222" stroke-width="1.4"/>
<line x1="1089" y1="1051.9" x2="1161.6" y2="1051.9" stroke="#222" stroke-width="1.4"/>
<line x1="1285.9" y1="982.6" x2="1285.9" y2="1039.8" stroke="#222" stroke-width="1.4"/>
<line x1="1069" y1="1099" x2="1081" y2="1093" stroke="#222" stroke-width="1.4"/>
<line x1="1070" y1="1123" x2="1081" y2="1119.5" stroke="#222" stroke-width="1.4"/>
<line x1="1206" y1="1097" x2="1244" y2="1097" stroke="#222" stroke-width="1.4"/>
<line x1="1196" y1="1131" x2="1221" y2="1131" stroke="#222" stroke-width="1.4"/>
<line x1="1256" y1="1185" x2="1312" y2="1185" stroke="#222" stroke-width="1.4"/>
<line x1="1224" y1="1220" x2="1283" y2="1220" stroke="#222" stroke-width="1.4"/>
<line x1="1412" y1="1214" x2="1405" y2="1164" stroke="#222" stroke-width="1.4"/>
<line x1="1412" y1="1214" x2="1416" y2="1154" stroke="#222" stroke-width="1.4"/>
<line x1="1109" y1="1200.7" x2="1109" y2="1260.5" stroke="#222" stroke-width="1.4"/>
<line x1="1166" y1="1209.9" x2="1213.6" y2="1246.7" stroke="#222" stroke-width="1.4"/>
<line x1="1202.9" y1="1329.5" x2="1186" y2="1290.4" stroke="#222" stroke-width="1.4"/>
<line x1="1010.7" y1="1317.7" x2="1031" y2="1312" stroke="#222" stroke-width="1.4"/>
<line x1="1010.7" y1="1331.3" x2="1031" y2="1335.9" stroke="#222" stroke-width="1.4"/>
<line x1="1010.7" y1="1343.8" x2="1033.3" y2="1363" stroke="#222" stroke-width="1.4"/>
<line x1="1074" y1="1270.9" x2="1074" y2="1331" stroke="#222" stroke-width="1.4"/>
<line x1="1143" y1="1334" x2="1143" y2="1388" stroke="#222" stroke-width="1.4"/>
<line x1="908.7" y1="1444" x2="962" y2="1448" stroke="#222" stroke-width="1.4"/>
<line x1="906" y1="1458.7" x2="962" y2="1476" stroke="#222" stroke-width="1.4"/>
<line x1="906" y1="1470.7" x2="962" y2="1506.7" stroke="#222" stroke-width="1.4"/>
<line x1="859.3" y1="1500" x2="859.3" y2="1525.3" stroke="#222" stroke-width="1.4"/>
<line x1="649.5" y1="1694.7" x2="649.5" y2="1748" stroke="#222" stroke-width="1.4"/>
</svg></body></html>
